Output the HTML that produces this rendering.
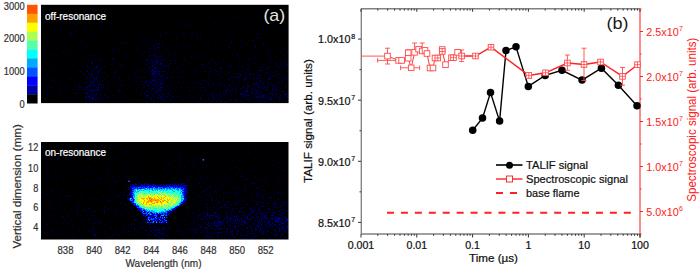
<!DOCTYPE html>
<html><head><meta charset="utf-8"><style>
html,body{margin:0;padding:0;background:#fff;}
body{width:700px;height:274px;overflow:hidden;}
svg{display:block;font-family:"Liberation Sans",sans-serif;}
</style></head><body>
<svg width="700" height="274" viewBox="0 0 700 274"><defs><filter id="nb" x="0" y="0" width="1" height="1"><feGaussianBlur stdDeviation="0.6"/></filter></defs>
<rect x="27" y="4.80" width="10.6" height="9.25" fill="#ff5500"/>
<rect x="27" y="13.75" width="10.6" height="9.25" fill="#ffa000"/>
<rect x="27" y="22.69" width="10.6" height="9.25" fill="#ffff00"/>
<rect x="27" y="31.64" width="10.6" height="9.25" fill="#aaff55"/>
<rect x="27" y="40.58" width="10.6" height="9.25" fill="#55ffaa"/>
<rect x="27" y="49.53" width="10.6" height="9.25" fill="#00ffff"/>
<rect x="27" y="58.47" width="10.6" height="9.25" fill="#00aaff"/>
<rect x="27" y="67.42" width="10.6" height="9.25" fill="#0055ff"/>
<rect x="27" y="76.36" width="10.6" height="9.25" fill="#0000ff"/>
<rect x="27" y="85.31" width="10.6" height="9.25" fill="#0000aa"/>
<rect x="27" y="94.25" width="10.6" height="9.25" fill="#000000"/>
<text transform="translate(24.6,9.8) scale(0.88,1)" font-size="10.6" fill="#333" text-anchor="end" stroke="#333" stroke-width="0.22">3000</text>
<text transform="translate(24.6,42.3) scale(0.88,1)" font-size="10.6" fill="#333" text-anchor="end" stroke="#333" stroke-width="0.22">2000</text>
<text transform="translate(24.6,75.1) scale(0.88,1)" font-size="10.6" fill="#333" text-anchor="end" stroke="#333" stroke-width="0.22">1000</text>
<text transform="translate(24.6,107.8) scale(0.88,1)" font-size="10.6" fill="#333" text-anchor="end" stroke="#333" stroke-width="0.22">0</text>
<rect x="41" y="4.8" width="247.6" height="98.3" fill="#000"/>
<rect x="41" y="142" width="247.5" height="97.5" fill="#000"/>
<g filter="url(#nb)">
<path fill="rgb(0,0,50)" d="M133 5h1v1h-1zM115 6h1v1h-1zM249 6h1v1h-1zM165 7h1v1h-1zM69 8h1v1h-1zM94 8h1v1h-1zM106 8h1v1h-1zM125 10h1v1h-1zM168 10h1v1h-1zM94 11h1v1h-1zM43 13h1v1h-1zM138 13h1v1h-1zM150 13h1v1h-1zM97 14h1v1h-1zM70 15h1v1h-1zM165 15h1v1h-1zM180 15h1v1h-1zM250 15h1v1h-1zM62 16h1v1h-1zM161 16h1v1h-1zM249 16h1v1h-1zM270 16h1v1h-1zM282 16h1v1h-1zM200 17h1v1h-1zM258 17h1v1h-1zM284 17h1v1h-1zM90 18h1v1h-1zM148 19h1v1h-1zM181 19h1v1h-1zM202 19h1v1h-1zM226 19h1v1h-1zM42 20h1v1h-1zM72 20h1v1h-1zM111 20h1v1h-1zM190 20h1v1h-1zM243 20h1v1h-1zM124 21h1v1h-1zM240 21h1v1h-1zM176 22h1v1h-1zM223 22h1v1h-1zM79 23h1v1h-1zM132 23h1v1h-1zM45 24h1v1h-1zM70 24h1v1h-1zM109 24h1v1h-1zM121 24h1v1h-1zM125 25h1v1h-1zM185 25h1v1h-1zM241 25h1v1h-1zM100 26h1v1h-1zM125 26h1v1h-1zM235 26h1v1h-1zM275 26h1v1h-1zM77 27h1v1h-1zM155 27h1v1h-1zM225 27h1v1h-1zM72 28h1v1h-1zM201 28h1v1h-1zM222 28h1v1h-1zM246 29h1v1h-1zM270 29h1v1h-1zM134 31h1v1h-1zM69 32h1v1h-1zM150 32h1v1h-1zM166 32h1v1h-1zM190 33h1v1h-1zM236 33h1v1h-1zM244 33h1v1h-1zM71 34h1v1h-1zM185 34h1v1h-1zM188 34h1v1h-1zM196 34h1v1h-1zM94 35h1v1h-1zM155 35h1v1h-1zM182 35h1v1h-1zM201 35h1v1h-1zM241 35h1v1h-1zM277 35h1v1h-1zM143 36h1v1h-1zM144 36h1v1h-1zM158 36h1v1h-1zM161 36h1v1h-1zM191 36h1v1h-1zM56 37h1v1h-1zM89 37h1v1h-1zM47 38h1v1h-1zM49 38h1v1h-1zM223 38h1v1h-1zM232 38h1v1h-1zM116 39h1v1h-1zM141 39h1v1h-1zM76 40h1v1h-1zM115 40h1v1h-1zM69 41h1v1h-1zM94 41h1v1h-1zM143 41h1v1h-1zM87 42h1v1h-1zM126 42h1v1h-1zM208 42h1v1h-1zM233 42h1v1h-1zM112 43h1v1h-1zM121 43h1v1h-1zM143 43h1v1h-1zM151 43h1v1h-1zM174 43h1v1h-1zM203 43h1v1h-1zM247 43h1v1h-1zM285 43h1v1h-1zM76 44h1v1h-1zM82 44h1v1h-1zM96 44h1v1h-1zM125 44h1v1h-1zM149 44h1v1h-1zM154 44h1v1h-1zM155 44h1v1h-1zM161 44h1v1h-1zM183 44h1v1h-1zM190 44h1v1h-1zM229 44h1v1h-1zM56 45h1v1h-1zM151 45h1v1h-1zM156 45h1v1h-1zM176 45h1v1h-1zM255 45h1v1h-1zM62 46h1v1h-1zM114 46h1v1h-1zM245 46h1v1h-1zM102 47h1v1h-1zM158 47h1v1h-1zM159 47h1v1h-1zM188 47h1v1h-1zM229 47h1v1h-1zM242 47h1v1h-1zM264 47h1v1h-1zM113 48h1v1h-1zM152 48h1v1h-1zM252 48h1v1h-1zM285 48h1v1h-1zM77 49h1v1h-1zM114 49h1v1h-1zM137 49h1v1h-1zM158 49h1v1h-1zM204 49h1v1h-1zM229 49h1v1h-1zM43 50h1v1h-1zM68 50h1v1h-1zM117 50h1v1h-1zM138 50h1v1h-1zM150 50h1v1h-1zM155 50h1v1h-1zM239 50h1v1h-1zM257 50h1v1h-1zM42 51h1v1h-1zM118 51h1v1h-1zM139 51h1v1h-1zM209 51h1v1h-1zM233 51h1v1h-1zM164 52h1v1h-1zM197 52h1v1h-1zM210 52h1v1h-1zM231 52h1v1h-1zM238 52h1v1h-1zM252 52h1v1h-1zM287 52h1v1h-1zM51 53h1v1h-1zM69 53h1v1h-1zM112 53h1v1h-1zM123 53h1v1h-1zM139 53h1v1h-1zM151 53h1v1h-1zM155 53h1v1h-1zM162 53h1v1h-1zM169 53h1v1h-1zM171 53h1v1h-1zM193 53h1v1h-1zM218 53h1v1h-1zM270 53h1v1h-1zM45 54h1v1h-1zM48 54h1v1h-1zM81 54h1v1h-1zM84 54h1v1h-1zM164 54h1v1h-1zM244 54h1v1h-1zM249 54h1v1h-1zM267 54h1v1h-1zM286 54h1v1h-1zM90 55h1v1h-1zM91 55h1v1h-1zM98 55h1v1h-1zM101 55h1v1h-1zM150 55h1v1h-1zM154 55h1v1h-1zM160 55h1v1h-1zM162 55h1v1h-1zM175 55h1v1h-1zM182 55h1v1h-1zM199 55h1v1h-1zM207 55h1v1h-1zM215 55h1v1h-1zM237 55h1v1h-1zM249 55h1v1h-1zM154 56h1v1h-1zM159 56h1v1h-1zM195 56h1v1h-1zM258 56h1v1h-1zM275 56h1v1h-1zM50 57h1v1h-1zM86 57h1v1h-1zM124 57h1v1h-1zM159 57h1v1h-1zM166 57h1v1h-1zM176 57h1v1h-1zM193 57h1v1h-1zM248 57h1v1h-1zM90 58h1v1h-1zM96 58h1v1h-1zM101 58h1v1h-1zM124 58h1v1h-1zM127 58h1v1h-1zM163 58h1v1h-1zM166 58h1v1h-1zM223 58h1v1h-1zM254 58h1v1h-1zM80 59h1v1h-1zM121 59h1v1h-1zM149 59h1v1h-1zM154 59h1v1h-1zM248 59h1v1h-1zM249 59h1v1h-1zM273 59h1v1h-1zM82 60h1v1h-1zM102 60h1v1h-1zM109 60h1v1h-1zM134 60h1v1h-1zM146 60h1v1h-1zM148 60h1v1h-1zM151 60h1v1h-1zM156 60h1v1h-1zM158 60h1v1h-1zM172 60h1v1h-1zM248 60h1v1h-1zM84 61h1v1h-1zM149 61h1v1h-1zM152 61h1v1h-1zM155 61h1v1h-1zM158 61h1v1h-1zM162 61h1v1h-1zM212 61h1v1h-1zM238 61h1v1h-1zM280 61h1v1h-1zM100 62h1v1h-1zM104 62h1v1h-1zM142 62h1v1h-1zM153 62h1v1h-1zM166 62h1v1h-1zM171 62h1v1h-1zM189 62h1v1h-1zM271 62h1v1h-1zM137 63h1v1h-1zM158 63h1v1h-1zM170 63h1v1h-1zM215 63h1v1h-1zM248 63h1v1h-1zM275 63h1v1h-1zM281 63h1v1h-1zM285 63h1v1h-1zM43 64h1v1h-1zM62 64h1v1h-1zM82 64h1v1h-1zM91 64h1v1h-1zM120 64h1v1h-1zM133 64h1v1h-1zM154 64h1v1h-1zM158 64h1v1h-1zM159 64h1v1h-1zM203 64h1v1h-1zM217 64h1v1h-1zM247 64h1v1h-1zM52 65h1v1h-1zM92 65h1v1h-1zM148 65h1v1h-1zM187 65h1v1h-1zM200 65h1v1h-1zM230 65h1v1h-1zM243 65h1v1h-1zM248 65h1v1h-1zM278 65h1v1h-1zM90 66h1v1h-1zM140 66h1v1h-1zM153 66h1v1h-1zM154 66h1v1h-1zM214 66h1v1h-1zM229 66h1v1h-1zM263 66h1v1h-1zM270 66h1v1h-1zM41 67h1v1h-1zM82 67h1v1h-1zM94 67h1v1h-1zM135 67h1v1h-1zM148 67h1v1h-1zM157 67h1v1h-1zM184 67h1v1h-1zM204 67h1v1h-1zM220 67h1v1h-1zM242 67h1v1h-1zM259 67h1v1h-1zM268 67h1v1h-1zM286 67h1v1h-1zM47 68h1v1h-1zM70 68h1v1h-1zM91 68h1v1h-1zM94 68h1v1h-1zM95 68h1v1h-1zM97 68h1v1h-1zM116 68h1v1h-1zM132 68h1v1h-1zM136 68h1v1h-1zM160 68h1v1h-1zM178 68h1v1h-1zM269 68h1v1h-1zM277 68h1v1h-1zM87 69h1v1h-1zM98 69h1v1h-1zM148 69h1v1h-1zM163 69h1v1h-1zM169 69h1v1h-1zM180 69h1v1h-1zM221 69h1v1h-1zM247 69h1v1h-1zM261 69h1v1h-1zM49 70h1v1h-1zM52 70h1v1h-1zM101 70h1v1h-1zM156 70h1v1h-1zM193 70h1v1h-1zM242 70h1v1h-1zM249 70h1v1h-1zM252 70h1v1h-1zM255 70h1v1h-1zM258 70h1v1h-1zM262 70h1v1h-1zM49 71h1v1h-1zM78 71h1v1h-1zM91 71h1v1h-1zM98 71h1v1h-1zM99 71h1v1h-1zM142 71h1v1h-1zM146 71h1v1h-1zM152 71h1v1h-1zM157 71h1v1h-1zM182 71h1v1h-1zM204 71h1v1h-1zM217 71h1v1h-1zM221 71h1v1h-1zM227 71h1v1h-1zM270 71h1v1h-1zM277 71h1v1h-1zM68 72h1v1h-1zM92 72h1v1h-1zM97 72h1v1h-1zM115 72h1v1h-1zM135 72h1v1h-1zM149 72h1v1h-1zM152 72h1v1h-1zM159 72h1v1h-1zM177 72h1v1h-1zM180 72h1v1h-1zM186 72h1v1h-1zM208 72h1v1h-1zM220 72h1v1h-1zM246 72h1v1h-1zM257 72h1v1h-1zM82 73h1v1h-1zM91 73h1v1h-1zM129 73h1v1h-1zM144 73h1v1h-1zM154 73h1v1h-1zM155 73h1v1h-1zM189 73h1v1h-1zM227 73h1v1h-1zM245 73h1v1h-1zM246 73h1v1h-1zM254 73h1v1h-1zM283 73h1v1h-1zM83 74h1v1h-1zM89 74h1v1h-1zM97 74h1v1h-1zM100 74h1v1h-1zM143 74h1v1h-1zM152 74h1v1h-1zM166 74h1v1h-1zM178 74h1v1h-1zM199 74h1v1h-1zM202 74h1v1h-1zM209 74h1v1h-1zM210 74h1v1h-1zM216 74h1v1h-1zM225 74h1v1h-1zM226 74h1v1h-1zM238 74h1v1h-1zM239 74h1v1h-1zM257 74h1v1h-1zM274 74h1v1h-1zM286 74h1v1h-1zM72 75h1v1h-1zM84 75h1v1h-1zM147 75h1v1h-1zM159 75h1v1h-1zM162 75h1v1h-1zM235 75h1v1h-1zM249 75h1v1h-1zM258 75h1v1h-1zM53 76h1v1h-1zM87 76h1v1h-1zM142 76h1v1h-1zM159 76h1v1h-1zM169 76h1v1h-1zM177 76h1v1h-1zM192 76h1v1h-1zM204 76h1v1h-1zM244 76h1v1h-1zM257 76h1v1h-1zM271 76h1v1h-1zM283 76h1v1h-1zM52 77h1v1h-1zM87 77h1v1h-1zM97 77h1v1h-1zM98 77h1v1h-1zM99 77h1v1h-1zM135 77h1v1h-1zM137 77h1v1h-1zM158 77h1v1h-1zM171 77h1v1h-1zM177 77h1v1h-1zM194 77h1v1h-1zM234 77h1v1h-1zM239 77h1v1h-1zM254 77h1v1h-1zM264 77h1v1h-1zM87 78h1v1h-1zM93 78h1v1h-1zM97 78h1v1h-1zM100 78h1v1h-1zM102 78h1v1h-1zM152 78h1v1h-1zM249 78h1v1h-1zM261 78h1v1h-1zM268 78h1v1h-1zM278 78h1v1h-1zM69 79h1v1h-1zM87 79h1v1h-1zM95 79h1v1h-1zM96 79h1v1h-1zM155 79h1v1h-1zM164 79h1v1h-1zM165 79h1v1h-1zM170 79h1v1h-1zM191 79h1v1h-1zM237 79h1v1h-1zM257 79h1v1h-1zM267 79h1v1h-1zM268 79h1v1h-1zM281 79h1v1h-1zM52 80h1v1h-1zM74 80h1v1h-1zM81 80h1v1h-1zM90 80h1v1h-1zM93 80h1v1h-1zM95 80h1v1h-1zM100 80h1v1h-1zM120 80h1v1h-1zM121 80h1v1h-1zM132 80h1v1h-1zM149 80h1v1h-1zM160 80h1v1h-1zM161 80h1v1h-1zM203 80h1v1h-1zM205 80h1v1h-1zM207 80h1v1h-1zM210 80h1v1h-1zM229 80h1v1h-1zM260 80h1v1h-1zM261 80h1v1h-1zM87 81h1v1h-1zM93 81h1v1h-1zM99 81h1v1h-1zM134 81h1v1h-1zM136 81h1v1h-1zM146 81h1v1h-1zM147 81h1v1h-1zM152 81h1v1h-1zM154 81h1v1h-1zM247 81h1v1h-1zM256 81h1v1h-1zM259 81h1v1h-1zM284 81h1v1h-1zM84 82h1v1h-1zM108 82h1v1h-1zM112 82h1v1h-1zM143 82h1v1h-1zM150 82h1v1h-1zM154 82h1v1h-1zM158 82h1v1h-1zM193 82h1v1h-1zM206 82h1v1h-1zM235 82h1v1h-1zM247 82h1v1h-1zM259 82h1v1h-1zM281 82h1v1h-1zM44 83h1v1h-1zM77 83h1v1h-1zM104 83h1v1h-1zM144 83h1v1h-1zM155 83h1v1h-1zM160 83h1v1h-1zM165 83h1v1h-1zM178 83h1v1h-1zM189 83h1v1h-1zM194 83h1v1h-1zM197 83h1v1h-1zM220 83h1v1h-1zM245 83h1v1h-1zM247 83h1v1h-1zM258 83h1v1h-1zM262 83h1v1h-1zM55 84h1v1h-1zM90 84h1v1h-1zM97 84h1v1h-1zM101 84h1v1h-1zM143 84h1v1h-1zM152 84h1v1h-1zM155 84h1v1h-1zM182 84h1v1h-1zM216 84h1v1h-1zM232 84h1v1h-1zM264 84h1v1h-1zM283 84h1v1h-1zM60 85h1v1h-1zM75 85h1v1h-1zM84 85h1v1h-1zM87 85h1v1h-1zM89 85h1v1h-1zM92 85h1v1h-1zM149 85h1v1h-1zM152 85h1v1h-1zM159 85h1v1h-1zM198 85h1v1h-1zM213 85h1v1h-1zM227 85h1v1h-1zM237 85h1v1h-1zM239 85h1v1h-1zM247 85h1v1h-1zM249 85h1v1h-1zM257 85h1v1h-1zM264 85h1v1h-1zM274 85h1v1h-1zM284 85h1v1h-1zM80 86h1v1h-1zM81 86h1v1h-1zM94 86h1v1h-1zM95 86h1v1h-1zM144 86h1v1h-1zM151 86h1v1h-1zM168 86h1v1h-1zM175 86h1v1h-1zM208 86h1v1h-1zM228 86h1v1h-1zM246 86h1v1h-1zM268 86h1v1h-1zM272 86h1v1h-1zM75 87h1v1h-1zM80 87h1v1h-1zM83 87h1v1h-1zM90 87h1v1h-1zM99 87h1v1h-1zM101 87h1v1h-1zM163 87h1v1h-1zM205 87h1v1h-1zM222 87h1v1h-1zM238 87h1v1h-1zM249 87h1v1h-1zM260 87h1v1h-1zM95 88h1v1h-1zM100 88h1v1h-1zM102 88h1v1h-1zM108 88h1v1h-1zM153 88h1v1h-1zM156 88h1v1h-1zM159 88h1v1h-1zM160 88h1v1h-1zM161 88h1v1h-1zM173 88h1v1h-1zM243 88h1v1h-1zM266 88h1v1h-1zM267 88h1v1h-1zM280 88h1v1h-1zM61 89h1v1h-1zM72 89h1v1h-1zM83 89h1v1h-1zM106 89h1v1h-1zM119 89h1v1h-1zM165 89h1v1h-1zM170 89h1v1h-1zM173 89h1v1h-1zM190 89h1v1h-1zM200 89h1v1h-1zM217 89h1v1h-1zM240 89h1v1h-1zM246 89h1v1h-1zM259 89h1v1h-1zM268 89h1v1h-1zM271 89h1v1h-1zM274 89h1v1h-1zM279 89h1v1h-1zM90 90h1v1h-1zM92 90h1v1h-1zM94 90h1v1h-1zM95 90h1v1h-1zM108 90h1v1h-1zM136 90h1v1h-1zM149 90h1v1h-1zM169 90h1v1h-1zM178 90h1v1h-1zM200 90h1v1h-1zM204 90h1v1h-1zM230 90h1v1h-1zM231 90h1v1h-1zM234 90h1v1h-1zM252 90h1v1h-1zM253 90h1v1h-1zM257 90h1v1h-1zM265 90h1v1h-1zM275 90h1v1h-1zM90 91h1v1h-1zM100 91h1v1h-1zM139 91h1v1h-1zM154 91h1v1h-1zM155 91h1v1h-1zM158 91h1v1h-1zM169 91h1v1h-1zM229 91h1v1h-1zM232 91h1v1h-1zM242 91h1v1h-1zM252 91h1v1h-1zM260 91h1v1h-1zM282 91h1v1h-1zM76 92h1v1h-1zM85 92h1v1h-1zM109 92h1v1h-1zM209 92h1v1h-1zM215 92h1v1h-1zM219 92h1v1h-1zM243 92h1v1h-1zM251 92h1v1h-1zM253 92h1v1h-1zM279 92h1v1h-1zM285 92h1v1h-1zM62 93h1v1h-1zM79 93h1v1h-1zM84 93h1v1h-1zM90 93h1v1h-1zM151 93h1v1h-1zM155 93h1v1h-1zM163 93h1v1h-1zM164 93h1v1h-1zM167 93h1v1h-1zM228 93h1v1h-1zM240 93h1v1h-1zM275 93h1v1h-1zM278 93h1v1h-1zM286 93h1v1h-1zM60 94h1v1h-1zM80 94h1v1h-1zM81 94h1v1h-1zM88 94h1v1h-1zM91 94h1v1h-1zM93 94h1v1h-1zM101 94h1v1h-1zM153 94h1v1h-1zM202 94h1v1h-1zM213 94h1v1h-1zM214 94h1v1h-1zM226 94h1v1h-1zM241 94h1v1h-1zM243 94h1v1h-1zM252 94h1v1h-1zM257 94h1v1h-1zM258 94h1v1h-1zM89 95h1v1h-1zM99 95h1v1h-1zM113 95h1v1h-1zM123 95h1v1h-1zM133 95h1v1h-1zM136 95h1v1h-1zM145 95h1v1h-1zM158 95h1v1h-1zM162 95h1v1h-1zM168 95h1v1h-1zM178 95h1v1h-1zM213 95h1v1h-1zM220 95h1v1h-1zM223 95h1v1h-1zM236 95h1v1h-1zM264 95h1v1h-1zM278 95h1v1h-1zM284 95h1v1h-1zM87 96h1v1h-1zM127 96h1v1h-1zM146 96h1v1h-1zM148 96h1v1h-1zM155 96h1v1h-1zM160 96h1v1h-1zM166 96h1v1h-1zM172 96h1v1h-1zM178 96h1v1h-1zM193 96h1v1h-1zM229 96h1v1h-1zM245 96h1v1h-1zM249 96h1v1h-1zM255 96h1v1h-1zM256 96h1v1h-1zM259 96h1v1h-1zM261 96h1v1h-1zM263 96h1v1h-1zM264 96h1v1h-1zM271 96h1v1h-1zM273 96h1v1h-1zM275 96h1v1h-1zM286 96h1v1h-1zM46 97h1v1h-1zM48 97h1v1h-1zM86 97h1v1h-1zM91 97h1v1h-1zM99 97h1v1h-1zM102 97h1v1h-1zM105 97h1v1h-1zM108 97h1v1h-1zM113 97h1v1h-1zM127 97h1v1h-1zM146 97h1v1h-1zM151 97h1v1h-1zM218 97h1v1h-1zM246 97h1v1h-1zM257 97h1v1h-1zM266 97h1v1h-1zM78 98h1v1h-1zM95 98h1v1h-1zM99 98h1v1h-1zM148 98h1v1h-1zM149 98h1v1h-1zM162 98h1v1h-1zM201 98h1v1h-1zM214 98h1v1h-1zM217 98h1v1h-1zM264 98h1v1h-1zM278 98h1v1h-1zM286 98h1v1h-1zM44 99h1v1h-1zM67 99h1v1h-1zM90 99h1v1h-1zM97 99h1v1h-1zM103 99h1v1h-1zM150 99h1v1h-1zM151 99h1v1h-1zM229 99h1v1h-1zM249 99h1v1h-1zM269 99h1v1h-1zM270 99h1v1h-1zM272 99h1v1h-1zM76 100h1v1h-1zM154 100h1v1h-1zM165 100h1v1h-1zM181 100h1v1h-1zM195 100h1v1h-1zM202 100h1v1h-1zM247 100h1v1h-1zM249 100h1v1h-1zM252 100h1v1h-1zM255 100h1v1h-1zM256 100h1v1h-1zM258 100h1v1h-1zM271 100h1v1h-1zM96 101h1v1h-1zM103 101h1v1h-1zM113 101h1v1h-1zM144 101h1v1h-1zM159 101h1v1h-1zM175 101h1v1h-1zM196 101h1v1h-1zM206 101h1v1h-1zM217 101h1v1h-1zM234 101h1v1h-1zM258 101h1v1h-1zM260 101h1v1h-1zM266 101h1v1h-1zM279 101h1v1h-1zM221 102h1v1h-1zM241 102h1v1h-1zM244 102h1v1h-1zM255 102h1v1h-1zM265 102h1v1h-1z"/>
<path fill="rgb(0,0,85)" d="M102 5h1v1h-1zM120 8h1v1h-1zM191 8h1v1h-1zM132 10h1v1h-1zM149 10h1v1h-1zM240 10h1v1h-1zM58 11h1v1h-1zM60 11h1v1h-1zM92 11h1v1h-1zM114 11h1v1h-1zM230 11h1v1h-1zM259 11h1v1h-1zM89 12h1v1h-1zM87 13h1v1h-1zM244 13h1v1h-1zM89 14h1v1h-1zM161 14h1v1h-1zM41 16h1v1h-1zM64 16h1v1h-1zM234 17h1v1h-1zM238 17h1v1h-1zM276 17h1v1h-1zM120 18h1v1h-1zM167 18h1v1h-1zM208 18h1v1h-1zM70 19h1v1h-1zM217 19h1v1h-1zM207 20h1v1h-1zM220 21h1v1h-1zM180 22h1v1h-1zM214 22h1v1h-1zM75 24h1v1h-1zM174 25h1v1h-1zM187 25h1v1h-1zM264 25h1v1h-1zM273 25h1v1h-1zM60 26h1v1h-1zM184 26h1v1h-1zM63 27h1v1h-1zM191 27h1v1h-1zM259 27h1v1h-1zM284 27h1v1h-1zM68 28h1v1h-1zM266 28h1v1h-1zM276 28h1v1h-1zM84 29h1v1h-1zM252 29h1v1h-1zM283 30h1v1h-1zM75 31h1v1h-1zM223 31h1v1h-1zM70 32h1v1h-1zM165 32h1v1h-1zM192 32h1v1h-1zM74 33h1v1h-1zM78 33h1v1h-1zM160 33h1v1h-1zM183 33h1v1h-1zM200 33h1v1h-1zM257 33h1v1h-1zM259 33h1v1h-1zM70 34h1v1h-1zM136 34h1v1h-1zM184 34h1v1h-1zM229 34h1v1h-1zM257 34h1v1h-1zM283 34h1v1h-1zM71 35h1v1h-1zM90 35h1v1h-1zM126 35h1v1h-1zM148 35h1v1h-1zM160 35h1v1h-1zM171 35h1v1h-1zM197 35h1v1h-1zM211 35h1v1h-1zM276 36h1v1h-1zM65 37h1v1h-1zM73 37h1v1h-1zM201 37h1v1h-1zM138 38h1v1h-1zM146 38h1v1h-1zM177 38h1v1h-1zM198 38h1v1h-1zM226 38h1v1h-1zM257 38h1v1h-1zM51 39h1v1h-1zM113 39h1v1h-1zM154 39h1v1h-1zM177 39h1v1h-1zM226 40h1v1h-1zM249 40h1v1h-1zM253 40h1v1h-1zM81 41h1v1h-1zM146 41h1v1h-1zM156 41h1v1h-1zM231 41h1v1h-1zM241 41h1v1h-1zM41 42h1v1h-1zM121 42h1v1h-1zM231 42h1v1h-1zM55 43h1v1h-1zM122 43h1v1h-1zM208 43h1v1h-1zM218 43h1v1h-1zM229 43h1v1h-1zM263 43h1v1h-1zM85 44h1v1h-1zM153 44h1v1h-1zM157 44h1v1h-1zM263 44h1v1h-1zM137 45h1v1h-1zM148 45h1v1h-1zM254 45h1v1h-1zM177 46h1v1h-1zM206 46h1v1h-1zM229 46h1v1h-1zM86 47h1v1h-1zM139 47h1v1h-1zM162 47h1v1h-1zM169 47h1v1h-1zM186 47h1v1h-1zM241 47h1v1h-1zM56 48h1v1h-1zM149 48h1v1h-1zM154 48h1v1h-1zM257 48h1v1h-1zM267 48h1v1h-1zM284 48h1v1h-1zM69 49h1v1h-1zM81 49h1v1h-1zM112 49h1v1h-1zM155 49h1v1h-1zM159 49h1v1h-1zM178 49h1v1h-1zM84 50h1v1h-1zM157 51h1v1h-1zM225 51h1v1h-1zM269 51h1v1h-1zM281 51h1v1h-1zM52 52h1v1h-1zM61 52h1v1h-1zM144 52h1v1h-1zM245 52h1v1h-1zM267 52h1v1h-1zM278 52h1v1h-1zM65 53h1v1h-1zM154 53h1v1h-1zM175 53h1v1h-1zM187 53h1v1h-1zM203 53h1v1h-1zM57 54h1v1h-1zM125 54h1v1h-1zM142 54h1v1h-1zM156 54h1v1h-1zM236 54h1v1h-1zM50 55h1v1h-1zM70 55h1v1h-1zM88 55h1v1h-1zM95 55h1v1h-1zM153 55h1v1h-1zM169 55h1v1h-1zM232 55h1v1h-1zM155 56h1v1h-1zM191 56h1v1h-1zM99 57h1v1h-1zM184 57h1v1h-1zM197 57h1v1h-1zM238 57h1v1h-1zM255 57h1v1h-1zM99 58h1v1h-1zM112 58h1v1h-1zM113 58h1v1h-1zM146 58h1v1h-1zM150 58h1v1h-1zM183 58h1v1h-1zM239 58h1v1h-1zM267 58h1v1h-1zM270 58h1v1h-1zM60 59h1v1h-1zM112 59h1v1h-1zM147 59h1v1h-1zM157 59h1v1h-1zM184 59h1v1h-1zM205 59h1v1h-1zM261 59h1v1h-1zM285 59h1v1h-1zM65 60h1v1h-1zM75 60h1v1h-1zM92 60h1v1h-1zM95 60h1v1h-1zM99 60h1v1h-1zM136 60h1v1h-1zM138 60h1v1h-1zM147 60h1v1h-1zM163 60h1v1h-1zM168 60h1v1h-1zM170 60h1v1h-1zM175 60h1v1h-1zM213 60h1v1h-1zM223 60h1v1h-1zM251 60h1v1h-1zM270 60h1v1h-1zM62 61h1v1h-1zM92 61h1v1h-1zM100 61h1v1h-1zM109 61h1v1h-1zM156 61h1v1h-1zM157 61h1v1h-1zM161 61h1v1h-1zM231 61h1v1h-1zM257 61h1v1h-1zM286 61h1v1h-1zM150 62h1v1h-1zM152 62h1v1h-1zM157 62h1v1h-1zM187 62h1v1h-1zM215 62h1v1h-1zM275 62h1v1h-1zM284 62h1v1h-1zM153 63h1v1h-1zM157 63h1v1h-1zM218 63h1v1h-1zM254 63h1v1h-1zM111 64h1v1h-1zM112 64h1v1h-1zM155 64h1v1h-1zM160 64h1v1h-1zM168 64h1v1h-1zM181 64h1v1h-1zM220 64h1v1h-1zM231 64h1v1h-1zM262 64h1v1h-1zM276 64h1v1h-1zM281 64h1v1h-1zM286 64h1v1h-1zM287 64h1v1h-1zM72 65h1v1h-1zM93 65h1v1h-1zM98 65h1v1h-1zM120 65h1v1h-1zM151 65h1v1h-1zM163 65h1v1h-1zM228 65h1v1h-1zM280 65h1v1h-1zM284 65h1v1h-1zM122 66h1v1h-1zM124 66h1v1h-1zM157 66h1v1h-1zM164 66h1v1h-1zM168 66h1v1h-1zM202 66h1v1h-1zM242 66h1v1h-1zM268 66h1v1h-1zM274 66h1v1h-1zM279 66h1v1h-1zM283 66h1v1h-1zM77 67h1v1h-1zM87 67h1v1h-1zM95 67h1v1h-1zM97 67h1v1h-1zM101 67h1v1h-1zM154 67h1v1h-1zM159 67h1v1h-1zM177 67h1v1h-1zM203 67h1v1h-1zM219 67h1v1h-1zM258 67h1v1h-1zM262 67h1v1h-1zM50 68h1v1h-1zM60 68h1v1h-1zM89 68h1v1h-1zM144 68h1v1h-1zM148 68h1v1h-1zM154 68h1v1h-1zM155 68h1v1h-1zM157 68h1v1h-1zM173 68h1v1h-1zM247 68h1v1h-1zM266 68h1v1h-1zM281 68h1v1h-1zM156 69h1v1h-1zM165 69h1v1h-1zM177 69h1v1h-1zM204 69h1v1h-1zM214 69h1v1h-1zM257 69h1v1h-1zM260 69h1v1h-1zM266 69h1v1h-1zM92 70h1v1h-1zM113 70h1v1h-1zM116 70h1v1h-1zM123 70h1v1h-1zM137 70h1v1h-1zM162 70h1v1h-1zM183 70h1v1h-1zM195 70h1v1h-1zM196 70h1v1h-1zM215 70h1v1h-1zM261 70h1v1h-1zM92 71h1v1h-1zM97 71h1v1h-1zM132 71h1v1h-1zM138 71h1v1h-1zM150 71h1v1h-1zM159 71h1v1h-1zM161 71h1v1h-1zM201 71h1v1h-1zM205 71h1v1h-1zM216 71h1v1h-1zM219 71h1v1h-1zM226 71h1v1h-1zM234 71h1v1h-1zM260 71h1v1h-1zM287 71h1v1h-1zM98 72h1v1h-1zM102 72h1v1h-1zM104 72h1v1h-1zM113 72h1v1h-1zM153 72h1v1h-1zM172 72h1v1h-1zM222 72h1v1h-1zM229 72h1v1h-1zM252 72h1v1h-1zM273 72h1v1h-1zM114 73h1v1h-1zM125 73h1v1h-1zM183 73h1v1h-1zM195 73h1v1h-1zM214 73h1v1h-1zM239 73h1v1h-1zM268 73h1v1h-1zM84 74h1v1h-1zM115 74h1v1h-1zM153 74h1v1h-1zM154 74h1v1h-1zM164 74h1v1h-1zM219 74h1v1h-1zM240 74h1v1h-1zM241 74h1v1h-1zM245 74h1v1h-1zM249 74h1v1h-1zM250 74h1v1h-1zM275 74h1v1h-1zM278 74h1v1h-1zM107 75h1v1h-1zM150 75h1v1h-1zM163 75h1v1h-1zM253 75h1v1h-1zM261 75h1v1h-1zM264 75h1v1h-1zM93 76h1v1h-1zM103 76h1v1h-1zM117 76h1v1h-1zM121 76h1v1h-1zM136 76h1v1h-1zM160 76h1v1h-1zM173 76h1v1h-1zM237 76h1v1h-1zM239 76h1v1h-1zM272 76h1v1h-1zM285 76h1v1h-1zM78 77h1v1h-1zM90 77h1v1h-1zM93 77h1v1h-1zM113 77h1v1h-1zM139 77h1v1h-1zM154 77h1v1h-1zM163 77h1v1h-1zM170 77h1v1h-1zM179 77h1v1h-1zM231 77h1v1h-1zM233 77h1v1h-1zM235 77h1v1h-1zM238 77h1v1h-1zM276 77h1v1h-1zM278 77h1v1h-1zM281 77h1v1h-1zM46 78h1v1h-1zM48 78h1v1h-1zM68 78h1v1h-1zM71 78h1v1h-1zM85 78h1v1h-1zM95 78h1v1h-1zM129 78h1v1h-1zM141 78h1v1h-1zM200 78h1v1h-1zM229 78h1v1h-1zM246 78h1v1h-1zM251 78h1v1h-1zM252 78h1v1h-1zM253 78h1v1h-1zM270 78h1v1h-1zM285 78h1v1h-1zM41 79h1v1h-1zM54 79h1v1h-1zM60 79h1v1h-1zM94 79h1v1h-1zM151 79h1v1h-1zM161 79h1v1h-1zM217 79h1v1h-1zM228 79h1v1h-1zM243 79h1v1h-1zM245 79h1v1h-1zM254 79h1v1h-1zM269 79h1v1h-1zM92 80h1v1h-1zM102 80h1v1h-1zM124 80h1v1h-1zM146 80h1v1h-1zM152 80h1v1h-1zM155 80h1v1h-1zM202 80h1v1h-1zM233 80h1v1h-1zM244 80h1v1h-1zM52 81h1v1h-1zM90 81h1v1h-1zM91 81h1v1h-1zM108 81h1v1h-1zM118 81h1v1h-1zM133 81h1v1h-1zM141 81h1v1h-1zM142 81h1v1h-1zM150 81h1v1h-1zM151 81h1v1h-1zM153 81h1v1h-1zM156 81h1v1h-1zM158 81h1v1h-1zM198 81h1v1h-1zM207 81h1v1h-1zM232 81h1v1h-1zM239 81h1v1h-1zM83 82h1v1h-1zM87 82h1v1h-1zM90 82h1v1h-1zM92 82h1v1h-1zM145 82h1v1h-1zM146 82h1v1h-1zM159 82h1v1h-1zM183 82h1v1h-1zM248 82h1v1h-1zM256 82h1v1h-1zM263 82h1v1h-1zM265 82h1v1h-1zM279 82h1v1h-1zM91 83h1v1h-1zM98 83h1v1h-1zM145 83h1v1h-1zM147 83h1v1h-1zM156 83h1v1h-1zM161 83h1v1h-1zM162 83h1v1h-1zM169 83h1v1h-1zM177 83h1v1h-1zM226 83h1v1h-1zM252 83h1v1h-1zM260 83h1v1h-1zM268 83h1v1h-1zM271 83h1v1h-1zM42 84h1v1h-1zM60 84h1v1h-1zM93 84h1v1h-1zM100 84h1v1h-1zM108 84h1v1h-1zM115 84h1v1h-1zM121 84h1v1h-1zM150 84h1v1h-1zM153 84h1v1h-1zM154 84h1v1h-1zM156 84h1v1h-1zM157 84h1v1h-1zM160 84h1v1h-1zM164 84h1v1h-1zM200 84h1v1h-1zM222 84h1v1h-1zM224 84h1v1h-1zM234 84h1v1h-1zM256 84h1v1h-1zM79 85h1v1h-1zM85 85h1v1h-1zM88 85h1v1h-1zM90 85h1v1h-1zM98 85h1v1h-1zM100 85h1v1h-1zM103 85h1v1h-1zM129 85h1v1h-1zM144 85h1v1h-1zM147 85h1v1h-1zM158 85h1v1h-1zM229 85h1v1h-1zM268 85h1v1h-1zM275 85h1v1h-1zM49 86h1v1h-1zM101 86h1v1h-1zM118 86h1v1h-1zM123 86h1v1h-1zM156 86h1v1h-1zM160 86h1v1h-1zM166 86h1v1h-1zM181 86h1v1h-1zM209 86h1v1h-1zM224 86h1v1h-1zM229 86h1v1h-1zM232 86h1v1h-1zM248 86h1v1h-1zM249 86h1v1h-1zM252 86h1v1h-1zM263 86h1v1h-1zM285 86h1v1h-1zM45 87h1v1h-1zM49 87h1v1h-1zM52 87h1v1h-1zM79 87h1v1h-1zM103 87h1v1h-1zM153 87h1v1h-1zM157 87h1v1h-1zM160 87h1v1h-1zM181 87h1v1h-1zM187 87h1v1h-1zM189 87h1v1h-1zM197 87h1v1h-1zM202 87h1v1h-1zM204 87h1v1h-1zM226 87h1v1h-1zM247 87h1v1h-1zM259 87h1v1h-1zM272 87h1v1h-1zM281 87h1v1h-1zM60 88h1v1h-1zM127 88h1v1h-1zM136 88h1v1h-1zM148 88h1v1h-1zM152 88h1v1h-1zM158 88h1v1h-1zM192 88h1v1h-1zM235 88h1v1h-1zM240 88h1v1h-1zM259 88h1v1h-1zM261 88h1v1h-1zM263 88h1v1h-1zM272 88h1v1h-1zM274 88h1v1h-1zM276 88h1v1h-1zM47 89h1v1h-1zM78 89h1v1h-1zM79 89h1v1h-1zM82 89h1v1h-1zM91 89h1v1h-1zM97 89h1v1h-1zM101 89h1v1h-1zM142 89h1v1h-1zM155 89h1v1h-1zM158 89h1v1h-1zM205 89h1v1h-1zM214 89h1v1h-1zM232 89h1v1h-1zM236 89h1v1h-1zM265 89h1v1h-1zM266 89h1v1h-1zM267 89h1v1h-1zM272 89h1v1h-1zM275 89h1v1h-1zM54 90h1v1h-1zM60 90h1v1h-1zM87 90h1v1h-1zM88 90h1v1h-1zM97 90h1v1h-1zM99 90h1v1h-1zM155 90h1v1h-1zM158 90h1v1h-1zM159 90h1v1h-1zM160 90h1v1h-1zM170 90h1v1h-1zM175 90h1v1h-1zM203 90h1v1h-1zM212 90h1v1h-1zM225 90h1v1h-1zM245 90h1v1h-1zM256 90h1v1h-1zM258 90h1v1h-1zM272 90h1v1h-1zM283 90h1v1h-1zM57 91h1v1h-1zM65 91h1v1h-1zM91 91h1v1h-1zM118 91h1v1h-1zM120 91h1v1h-1zM145 91h1v1h-1zM146 91h1v1h-1zM159 91h1v1h-1zM166 91h1v1h-1zM183 91h1v1h-1zM194 91h1v1h-1zM201 91h1v1h-1zM207 91h1v1h-1zM220 91h1v1h-1zM226 91h1v1h-1zM251 91h1v1h-1zM256 91h1v1h-1zM269 91h1v1h-1zM283 91h1v1h-1zM47 92h1v1h-1zM87 92h1v1h-1zM94 92h1v1h-1zM151 92h1v1h-1zM153 92h1v1h-1zM156 92h1v1h-1zM177 92h1v1h-1zM211 92h1v1h-1zM226 92h1v1h-1zM236 92h1v1h-1zM252 92h1v1h-1zM260 92h1v1h-1zM270 92h1v1h-1zM74 93h1v1h-1zM75 93h1v1h-1zM86 93h1v1h-1zM100 93h1v1h-1zM154 93h1v1h-1zM173 93h1v1h-1zM198 93h1v1h-1zM225 93h1v1h-1zM252 93h1v1h-1zM257 93h1v1h-1zM258 93h1v1h-1zM284 93h1v1h-1zM140 94h1v1h-1zM166 94h1v1h-1zM207 94h1v1h-1zM211 94h1v1h-1zM216 94h1v1h-1zM227 94h1v1h-1zM231 94h1v1h-1zM242 94h1v1h-1zM245 94h1v1h-1zM263 94h1v1h-1zM287 94h1v1h-1zM95 95h1v1h-1zM101 95h1v1h-1zM105 95h1v1h-1zM164 95h1v1h-1zM170 95h1v1h-1zM189 95h1v1h-1zM217 95h1v1h-1zM224 95h1v1h-1zM243 95h1v1h-1zM244 95h1v1h-1zM246 95h1v1h-1zM247 95h1v1h-1zM248 95h1v1h-1zM260 95h1v1h-1zM262 95h1v1h-1zM276 95h1v1h-1zM280 95h1v1h-1zM88 96h1v1h-1zM99 96h1v1h-1zM108 96h1v1h-1zM147 96h1v1h-1zM164 96h1v1h-1zM167 96h1v1h-1zM173 96h1v1h-1zM177 96h1v1h-1zM189 96h1v1h-1zM241 96h1v1h-1zM243 96h1v1h-1zM246 96h1v1h-1zM266 96h1v1h-1zM269 96h1v1h-1zM278 96h1v1h-1zM284 96h1v1h-1zM67 97h1v1h-1zM96 97h1v1h-1zM107 97h1v1h-1zM123 97h1v1h-1zM157 97h1v1h-1zM160 97h1v1h-1zM161 97h1v1h-1zM172 97h1v1h-1zM192 97h1v1h-1zM200 97h1v1h-1zM225 97h1v1h-1zM252 97h1v1h-1zM256 97h1v1h-1zM261 97h1v1h-1zM275 97h1v1h-1zM278 97h1v1h-1zM45 98h1v1h-1zM86 98h1v1h-1zM92 98h1v1h-1zM101 98h1v1h-1zM107 98h1v1h-1zM159 98h1v1h-1zM165 98h1v1h-1zM170 98h1v1h-1zM181 98h1v1h-1zM191 98h1v1h-1zM196 98h1v1h-1zM245 98h1v1h-1zM247 98h1v1h-1zM250 98h1v1h-1zM254 98h1v1h-1zM266 98h1v1h-1zM280 98h1v1h-1zM93 99h1v1h-1zM94 99h1v1h-1zM96 99h1v1h-1zM99 99h1v1h-1zM130 99h1v1h-1zM142 99h1v1h-1zM153 99h1v1h-1zM162 99h1v1h-1zM163 99h1v1h-1zM179 99h1v1h-1zM205 99h1v1h-1zM219 99h1v1h-1zM222 99h1v1h-1zM228 99h1v1h-1zM235 99h1v1h-1zM283 99h1v1h-1zM53 100h1v1h-1zM89 100h1v1h-1zM107 100h1v1h-1zM139 100h1v1h-1zM151 100h1v1h-1zM157 100h1v1h-1zM230 100h1v1h-1zM235 100h1v1h-1zM242 100h1v1h-1zM248 100h1v1h-1zM260 100h1v1h-1zM262 100h1v1h-1zM65 101h1v1h-1zM90 101h1v1h-1zM98 101h1v1h-1zM166 101h1v1h-1zM198 101h1v1h-1zM220 101h1v1h-1zM221 101h1v1h-1zM249 101h1v1h-1zM262 101h1v1h-1zM267 101h1v1h-1zM273 101h1v1h-1zM286 101h1v1h-1zM56 102h1v1h-1zM92 102h1v1h-1zM146 102h1v1h-1zM235 102h1v1h-1z"/>
<path fill="rgb(0,0,125)" d="M162 41h1v1h-1zM159 43h1v1h-1zM153 46h1v1h-1zM157 47h1v1h-1zM255 47h1v1h-1zM166 50h1v1h-1zM148 51h1v1h-1zM149 55h1v1h-1zM148 56h1v1h-1zM157 56h1v1h-1zM161 56h1v1h-1zM155 57h1v1h-1zM86 58h1v1h-1zM158 58h1v1h-1zM155 59h1v1h-1zM161 59h1v1h-1zM145 60h1v1h-1zM152 60h1v1h-1zM155 60h1v1h-1zM157 60h1v1h-1zM165 60h1v1h-1zM167 60h1v1h-1zM156 62h1v1h-1zM91 63h1v1h-1zM92 63h1v1h-1zM148 63h1v1h-1zM160 63h1v1h-1zM161 63h1v1h-1zM175 63h1v1h-1zM209 63h1v1h-1zM145 64h1v1h-1zM162 64h1v1h-1zM202 64h1v1h-1zM87 65h1v1h-1zM152 65h1v1h-1zM161 65h1v1h-1zM166 65h1v1h-1zM238 65h1v1h-1zM96 66h1v1h-1zM105 66h1v1h-1zM152 66h1v1h-1zM165 66h1v1h-1zM96 67h1v1h-1zM150 67h1v1h-1zM155 67h1v1h-1zM210 67h1v1h-1zM231 67h1v1h-1zM92 68h1v1h-1zM100 68h1v1h-1zM220 68h1v1h-1zM248 68h1v1h-1zM152 69h1v1h-1zM157 69h1v1h-1zM243 69h1v1h-1zM94 70h1v1h-1zM99 70h1v1h-1zM150 70h1v1h-1zM80 71h1v1h-1zM87 71h1v1h-1zM153 71h1v1h-1zM154 71h1v1h-1zM155 71h1v1h-1zM158 71h1v1h-1zM163 71h1v1h-1zM165 71h1v1h-1zM211 71h1v1h-1zM276 71h1v1h-1zM155 72h1v1h-1zM158 72h1v1h-1zM266 72h1v1h-1zM88 73h1v1h-1zM151 73h1v1h-1zM152 73h1v1h-1zM153 73h1v1h-1zM156 73h1v1h-1zM167 73h1v1h-1zM236 73h1v1h-1zM249 73h1v1h-1zM266 73h1v1h-1zM278 73h1v1h-1zM280 73h1v1h-1zM91 74h1v1h-1zM92 74h1v1h-1zM134 74h1v1h-1zM159 74h1v1h-1zM259 74h1v1h-1zM89 75h1v1h-1zM91 75h1v1h-1zM153 75h1v1h-1zM155 75h1v1h-1zM160 75h1v1h-1zM240 75h1v1h-1zM268 75h1v1h-1zM275 75h1v1h-1zM96 76h1v1h-1zM153 76h1v1h-1zM161 76h1v1h-1zM92 77h1v1h-1zM145 77h1v1h-1zM161 77h1v1h-1zM167 77h1v1h-1zM208 77h1v1h-1zM220 77h1v1h-1zM245 77h1v1h-1zM246 77h1v1h-1zM259 77h1v1h-1zM269 77h1v1h-1zM96 78h1v1h-1zM104 78h1v1h-1zM119 78h1v1h-1zM155 78h1v1h-1zM167 78h1v1h-1zM228 78h1v1h-1zM256 78h1v1h-1zM259 78h1v1h-1zM287 78h1v1h-1zM153 79h1v1h-1zM157 79h1v1h-1zM159 79h1v1h-1zM244 79h1v1h-1zM270 79h1v1h-1zM284 79h1v1h-1zM94 80h1v1h-1zM153 80h1v1h-1zM156 80h1v1h-1zM282 80h1v1h-1zM60 81h1v1h-1zM97 81h1v1h-1zM162 81h1v1h-1zM163 81h1v1h-1zM220 81h1v1h-1zM260 81h1v1h-1zM278 81h1v1h-1zM93 82h1v1h-1zM151 82h1v1h-1zM161 82h1v1h-1zM196 82h1v1h-1zM218 82h1v1h-1zM262 82h1v1h-1zM268 82h1v1h-1zM149 83h1v1h-1zM171 83h1v1h-1zM213 83h1v1h-1zM255 83h1v1h-1zM275 83h1v1h-1zM92 84h1v1h-1zM98 84h1v1h-1zM147 84h1v1h-1zM161 84h1v1h-1zM208 84h1v1h-1zM254 84h1v1h-1zM257 84h1v1h-1zM262 84h1v1h-1zM272 84h1v1h-1zM281 84h1v1h-1zM94 85h1v1h-1zM218 85h1v1h-1zM221 85h1v1h-1zM253 85h1v1h-1zM89 86h1v1h-1zM90 86h1v1h-1zM93 86h1v1h-1zM148 86h1v1h-1zM243 86h1v1h-1zM258 86h1v1h-1zM274 86h1v1h-1zM86 87h1v1h-1zM87 87h1v1h-1zM96 87h1v1h-1zM98 87h1v1h-1zM107 87h1v1h-1zM143 87h1v1h-1zM161 87h1v1h-1zM162 87h1v1h-1zM201 87h1v1h-1zM236 87h1v1h-1zM243 87h1v1h-1zM258 87h1v1h-1zM261 87h1v1h-1zM265 87h1v1h-1zM267 87h1v1h-1zM277 87h1v1h-1zM286 87h1v1h-1zM67 88h1v1h-1zM87 88h1v1h-1zM98 88h1v1h-1zM246 88h1v1h-1zM252 88h1v1h-1zM254 88h1v1h-1zM85 89h1v1h-1zM90 89h1v1h-1zM94 89h1v1h-1zM96 89h1v1h-1zM152 89h1v1h-1zM164 89h1v1h-1zM227 89h1v1h-1zM228 89h1v1h-1zM235 89h1v1h-1zM84 90h1v1h-1zM93 90h1v1h-1zM98 90h1v1h-1zM151 90h1v1h-1zM156 90h1v1h-1zM161 90h1v1h-1zM189 90h1v1h-1zM247 90h1v1h-1zM250 90h1v1h-1zM255 90h1v1h-1zM277 90h1v1h-1zM93 91h1v1h-1zM119 91h1v1h-1zM147 91h1v1h-1zM225 91h1v1h-1zM246 91h1v1h-1zM247 91h1v1h-1zM261 91h1v1h-1zM157 92h1v1h-1zM223 92h1v1h-1zM257 92h1v1h-1zM267 92h1v1h-1zM43 93h1v1h-1zM85 93h1v1h-1zM87 93h1v1h-1zM91 93h1v1h-1zM96 93h1v1h-1zM144 93h1v1h-1zM161 93h1v1h-1zM168 93h1v1h-1zM241 93h1v1h-1zM246 93h1v1h-1zM270 93h1v1h-1zM276 93h1v1h-1zM89 94h1v1h-1zM94 94h1v1h-1zM96 94h1v1h-1zM104 94h1v1h-1zM159 94h1v1h-1zM162 94h1v1h-1zM212 94h1v1h-1zM220 94h1v1h-1zM240 94h1v1h-1zM255 94h1v1h-1zM260 94h1v1h-1zM265 94h1v1h-1zM270 94h1v1h-1zM273 94h1v1h-1zM284 94h1v1h-1zM285 94h1v1h-1zM87 95h1v1h-1zM92 95h1v1h-1zM146 95h1v1h-1zM147 95h1v1h-1zM152 95h1v1h-1zM249 95h1v1h-1zM263 95h1v1h-1zM272 95h1v1h-1zM86 96h1v1h-1zM89 96h1v1h-1zM94 96h1v1h-1zM154 96h1v1h-1zM161 96h1v1h-1zM212 96h1v1h-1zM221 96h1v1h-1zM257 96h1v1h-1zM260 96h1v1h-1zM262 96h1v1h-1zM287 96h1v1h-1zM85 97h1v1h-1zM89 97h1v1h-1zM92 97h1v1h-1zM158 97h1v1h-1zM162 97h1v1h-1zM214 97h1v1h-1zM243 97h1v1h-1zM258 97h1v1h-1zM263 97h1v1h-1zM271 97h1v1h-1zM279 97h1v1h-1zM280 97h1v1h-1zM89 98h1v1h-1zM91 98h1v1h-1zM151 98h1v1h-1zM200 98h1v1h-1zM208 98h1v1h-1zM230 98h1v1h-1zM269 98h1v1h-1zM270 98h1v1h-1zM92 99h1v1h-1zM212 99h1v1h-1zM214 99h1v1h-1zM236 99h1v1h-1zM258 99h1v1h-1zM271 99h1v1h-1zM279 99h1v1h-1zM95 100h1v1h-1zM164 100h1v1h-1zM170 100h1v1h-1zM241 100h1v1h-1zM85 101h1v1h-1zM146 101h1v1h-1zM153 101h1v1h-1zM212 101h1v1h-1zM226 101h1v1h-1zM264 101h1v1h-1zM210 102h1v1h-1zM224 102h1v1h-1z"/>
<path fill="rgb(0,0,175)" d="M152 70h1v1h-1zM158 73h1v1h-1zM157 77h1v1h-1zM155 86h1v1h-1zM91 90h1v1h-1zM93 98h1v1h-1z"/>
<path fill="rgb(0,0,50)" d="M124 142h1v1h-1zM135 142h1v1h-1zM57 143h1v1h-1zM168 143h1v1h-1zM236 144h1v1h-1zM114 145h1v1h-1zM267 145h1v1h-1zM87 146h1v1h-1zM171 146h1v1h-1zM204 146h1v1h-1zM235 146h1v1h-1zM283 146h1v1h-1zM115 147h1v1h-1zM161 147h1v1h-1zM210 147h1v1h-1zM282 147h1v1h-1zM65 148h1v1h-1zM107 148h1v1h-1zM248 148h1v1h-1zM287 148h1v1h-1zM90 149h1v1h-1zM100 149h1v1h-1zM113 149h1v1h-1zM120 149h1v1h-1zM170 149h1v1h-1zM86 150h1v1h-1zM78 151h1v1h-1zM264 151h1v1h-1zM286 151h1v1h-1zM87 152h1v1h-1zM128 152h1v1h-1zM204 152h1v1h-1zM249 152h1v1h-1zM209 153h1v1h-1zM86 154h1v1h-1zM104 154h1v1h-1zM108 154h1v1h-1zM125 154h1v1h-1zM181 154h1v1h-1zM47 155h1v1h-1zM65 155h1v1h-1zM121 155h1v1h-1zM177 155h1v1h-1zM227 155h1v1h-1zM45 156h1v1h-1zM129 156h1v1h-1zM133 156h1v1h-1zM195 156h1v1h-1zM44 157h1v1h-1zM72 157h1v1h-1zM153 157h1v1h-1zM58 158h1v1h-1zM117 158h1v1h-1zM264 158h1v1h-1zM65 159h1v1h-1zM174 159h1v1h-1zM188 159h1v1h-1zM95 160h1v1h-1zM287 160h1v1h-1zM110 161h1v1h-1zM139 161h1v1h-1zM143 161h1v1h-1zM174 161h1v1h-1zM203 161h1v1h-1zM107 162h1v1h-1zM173 162h1v1h-1zM179 162h1v1h-1zM206 162h1v1h-1zM246 162h1v1h-1zM71 163h1v1h-1zM168 163h1v1h-1zM193 163h1v1h-1zM63 164h1v1h-1zM66 164h1v1h-1zM93 164h1v1h-1zM182 164h1v1h-1zM204 164h1v1h-1zM227 164h1v1h-1zM266 164h1v1h-1zM274 164h1v1h-1zM143 165h1v1h-1zM178 165h1v1h-1zM179 165h1v1h-1zM191 165h1v1h-1zM197 165h1v1h-1zM258 165h1v1h-1zM273 165h1v1h-1zM79 166h1v1h-1zM134 166h1v1h-1zM234 167h1v1h-1zM236 167h1v1h-1zM268 167h1v1h-1zM106 168h1v1h-1zM126 168h1v1h-1zM168 168h1v1h-1zM47 169h1v1h-1zM44 170h1v1h-1zM80 170h1v1h-1zM125 170h1v1h-1zM250 170h1v1h-1zM253 170h1v1h-1zM78 171h1v1h-1zM239 171h1v1h-1zM257 171h1v1h-1zM278 171h1v1h-1zM54 172h1v1h-1zM88 172h1v1h-1zM93 172h1v1h-1zM134 172h1v1h-1zM279 172h1v1h-1zM93 173h1v1h-1zM127 173h1v1h-1zM130 173h1v1h-1zM166 173h1v1h-1zM205 173h1v1h-1zM229 173h1v1h-1zM54 174h1v1h-1zM60 174h1v1h-1zM66 174h1v1h-1zM85 174h1v1h-1zM117 174h1v1h-1zM135 174h1v1h-1zM176 174h1v1h-1zM221 174h1v1h-1zM240 174h1v1h-1zM274 174h1v1h-1zM57 175h1v1h-1zM167 175h1v1h-1zM191 175h1v1h-1zM226 175h1v1h-1zM236 175h1v1h-1zM248 175h1v1h-1zM282 175h1v1h-1zM81 176h1v1h-1zM113 176h1v1h-1zM119 176h1v1h-1zM151 176h1v1h-1zM161 176h1v1h-1zM189 176h1v1h-1zM191 176h1v1h-1zM201 176h1v1h-1zM205 176h1v1h-1zM227 176h1v1h-1zM231 176h1v1h-1zM235 176h1v1h-1zM244 176h1v1h-1zM278 176h1v1h-1zM57 177h1v1h-1zM112 177h1v1h-1zM275 177h1v1h-1zM89 178h1v1h-1zM196 178h1v1h-1zM272 178h1v1h-1zM57 179h1v1h-1zM72 179h1v1h-1zM84 179h1v1h-1zM85 179h1v1h-1zM164 179h1v1h-1zM224 179h1v1h-1zM246 179h1v1h-1zM43 180h1v1h-1zM63 180h1v1h-1zM66 180h1v1h-1zM95 180h1v1h-1zM108 180h1v1h-1zM194 180h1v1h-1zM260 180h1v1h-1zM115 181h1v1h-1zM142 181h1v1h-1zM217 181h1v1h-1zM227 181h1v1h-1zM240 181h1v1h-1zM56 182h1v1h-1zM128 182h1v1h-1zM207 182h1v1h-1zM208 182h1v1h-1zM225 182h1v1h-1zM254 182h1v1h-1zM280 182h1v1h-1zM97 183h1v1h-1zM180 183h1v1h-1zM182 183h1v1h-1zM253 183h1v1h-1zM265 183h1v1h-1zM278 183h1v1h-1zM283 183h1v1h-1zM136 184h1v1h-1zM173 184h1v1h-1zM223 184h1v1h-1zM239 184h1v1h-1zM244 184h1v1h-1zM268 184h1v1h-1zM273 184h1v1h-1zM287 184h1v1h-1zM82 185h1v1h-1zM112 185h1v1h-1zM132 185h1v1h-1zM154 185h1v1h-1zM209 185h1v1h-1zM221 185h1v1h-1zM226 185h1v1h-1zM243 185h1v1h-1zM248 185h1v1h-1zM276 185h1v1h-1zM287 185h1v1h-1zM68 186h1v1h-1zM88 186h1v1h-1zM135 186h1v1h-1zM178 186h1v1h-1zM235 186h1v1h-1zM114 187h1v1h-1zM147 187h1v1h-1zM206 187h1v1h-1zM209 187h1v1h-1zM228 187h1v1h-1zM232 187h1v1h-1zM236 187h1v1h-1zM259 187h1v1h-1zM267 187h1v1h-1zM279 187h1v1h-1zM42 188h1v1h-1zM51 188h1v1h-1zM152 188h1v1h-1zM195 188h1v1h-1zM224 188h1v1h-1zM255 188h1v1h-1zM287 188h1v1h-1zM61 189h1v1h-1zM154 189h1v1h-1zM185 189h1v1h-1zM197 189h1v1h-1zM206 189h1v1h-1zM218 189h1v1h-1zM222 189h1v1h-1zM234 189h1v1h-1zM278 189h1v1h-1zM111 190h1v1h-1zM163 190h1v1h-1zM201 190h1v1h-1zM93 191h1v1h-1zM222 191h1v1h-1zM252 191h1v1h-1zM105 192h1v1h-1zM113 192h1v1h-1zM120 192h1v1h-1zM121 192h1v1h-1zM205 192h1v1h-1zM216 192h1v1h-1zM224 192h1v1h-1zM226 192h1v1h-1zM227 192h1v1h-1zM229 192h1v1h-1zM235 192h1v1h-1zM249 192h1v1h-1zM281 192h1v1h-1zM282 192h1v1h-1zM54 193h1v1h-1zM61 193h1v1h-1zM79 193h1v1h-1zM117 193h1v1h-1zM130 193h1v1h-1zM148 193h1v1h-1zM150 193h1v1h-1zM181 193h1v1h-1zM232 193h1v1h-1zM252 193h1v1h-1zM259 193h1v1h-1zM285 193h1v1h-1zM128 194h1v1h-1zM140 194h1v1h-1zM207 194h1v1h-1zM252 194h1v1h-1zM271 194h1v1h-1zM119 195h1v1h-1zM125 195h1v1h-1zM144 195h1v1h-1zM179 195h1v1h-1zM193 195h1v1h-1zM197 195h1v1h-1zM203 195h1v1h-1zM216 195h1v1h-1zM234 195h1v1h-1zM273 195h1v1h-1zM42 196h1v1h-1zM59 196h1v1h-1zM89 196h1v1h-1zM158 196h1v1h-1zM196 196h1v1h-1zM199 196h1v1h-1zM208 196h1v1h-1zM227 196h1v1h-1zM235 196h1v1h-1zM281 196h1v1h-1zM185 197h1v1h-1zM202 197h1v1h-1zM203 197h1v1h-1zM224 197h1v1h-1zM251 197h1v1h-1zM276 197h1v1h-1zM54 198h1v1h-1zM93 198h1v1h-1zM109 198h1v1h-1zM223 198h1v1h-1zM243 198h1v1h-1zM261 198h1v1h-1zM263 198h1v1h-1zM278 198h1v1h-1zM69 199h1v1h-1zM128 199h1v1h-1zM164 199h1v1h-1zM206 199h1v1h-1zM212 199h1v1h-1zM170 200h1v1h-1zM213 200h1v1h-1zM226 200h1v1h-1zM249 200h1v1h-1zM255 200h1v1h-1zM276 200h1v1h-1zM278 200h1v1h-1zM81 201h1v1h-1zM91 201h1v1h-1zM198 201h1v1h-1zM206 201h1v1h-1zM229 201h1v1h-1zM234 201h1v1h-1zM241 201h1v1h-1zM242 201h1v1h-1zM251 201h1v1h-1zM274 201h1v1h-1zM275 201h1v1h-1zM48 202h1v1h-1zM120 202h1v1h-1zM121 202h1v1h-1zM139 202h1v1h-1zM217 202h1v1h-1zM218 202h1v1h-1zM260 202h1v1h-1zM282 202h1v1h-1zM70 203h1v1h-1zM198 203h1v1h-1zM207 203h1v1h-1zM231 203h1v1h-1zM233 203h1v1h-1zM269 203h1v1h-1zM272 203h1v1h-1zM273 203h1v1h-1zM147 204h1v1h-1zM157 204h1v1h-1zM202 204h1v1h-1zM216 204h1v1h-1zM228 204h1v1h-1zM236 204h1v1h-1zM255 204h1v1h-1zM282 204h1v1h-1zM49 205h1v1h-1zM69 205h1v1h-1zM123 205h1v1h-1zM191 205h1v1h-1zM192 205h1v1h-1zM222 205h1v1h-1zM246 205h1v1h-1zM252 205h1v1h-1zM274 205h1v1h-1zM275 205h1v1h-1zM282 205h1v1h-1zM283 205h1v1h-1zM284 205h1v1h-1zM287 205h1v1h-1zM52 206h1v1h-1zM137 206h1v1h-1zM138 206h1v1h-1zM151 206h1v1h-1zM205 206h1v1h-1zM209 206h1v1h-1zM213 206h1v1h-1zM218 206h1v1h-1zM267 206h1v1h-1zM269 206h1v1h-1zM287 206h1v1h-1zM104 207h1v1h-1zM105 207h1v1h-1zM207 207h1v1h-1zM209 207h1v1h-1zM212 207h1v1h-1zM221 207h1v1h-1zM241 207h1v1h-1zM273 207h1v1h-1zM281 207h1v1h-1zM113 208h1v1h-1zM170 208h1v1h-1zM183 208h1v1h-1zM207 208h1v1h-1zM210 208h1v1h-1zM237 208h1v1h-1zM242 208h1v1h-1zM255 208h1v1h-1zM259 208h1v1h-1zM265 208h1v1h-1zM267 208h1v1h-1zM268 208h1v1h-1zM84 209h1v1h-1zM91 209h1v1h-1zM110 209h1v1h-1zM121 209h1v1h-1zM253 209h1v1h-1zM263 209h1v1h-1zM265 209h1v1h-1zM267 209h1v1h-1zM278 209h1v1h-1zM59 210h1v1h-1zM208 210h1v1h-1zM213 210h1v1h-1zM229 210h1v1h-1zM249 210h1v1h-1zM250 210h1v1h-1zM257 210h1v1h-1zM272 210h1v1h-1zM273 210h1v1h-1zM277 210h1v1h-1zM198 211h1v1h-1zM214 211h1v1h-1zM224 211h1v1h-1zM227 211h1v1h-1zM231 211h1v1h-1zM58 212h1v1h-1zM65 212h1v1h-1zM75 212h1v1h-1zM87 212h1v1h-1zM107 212h1v1h-1zM114 212h1v1h-1zM129 212h1v1h-1zM198 212h1v1h-1zM221 212h1v1h-1zM227 212h1v1h-1zM231 212h1v1h-1zM234 212h1v1h-1zM241 212h1v1h-1zM277 212h1v1h-1zM279 212h1v1h-1zM281 212h1v1h-1zM50 213h1v1h-1zM117 213h1v1h-1zM128 213h1v1h-1zM168 213h1v1h-1zM180 213h1v1h-1zM189 213h1v1h-1zM195 213h1v1h-1zM203 213h1v1h-1zM231 213h1v1h-1zM243 213h1v1h-1zM245 213h1v1h-1zM257 213h1v1h-1zM260 213h1v1h-1zM269 213h1v1h-1zM281 213h1v1h-1zM66 214h1v1h-1zM77 214h1v1h-1zM78 214h1v1h-1zM84 214h1v1h-1zM86 214h1v1h-1zM123 214h1v1h-1zM156 214h1v1h-1zM193 214h1v1h-1zM213 214h1v1h-1zM219 214h1v1h-1zM220 214h1v1h-1zM225 214h1v1h-1zM250 214h1v1h-1zM258 214h1v1h-1zM262 214h1v1h-1zM265 214h1v1h-1zM267 214h1v1h-1zM282 214h1v1h-1zM104 215h1v1h-1zM124 215h1v1h-1zM188 215h1v1h-1zM195 215h1v1h-1zM208 215h1v1h-1zM213 215h1v1h-1zM215 215h1v1h-1zM226 215h1v1h-1zM231 215h1v1h-1zM232 215h1v1h-1zM255 215h1v1h-1zM270 215h1v1h-1zM42 216h1v1h-1zM53 216h1v1h-1zM79 216h1v1h-1zM132 216h1v1h-1zM144 216h1v1h-1zM162 216h1v1h-1zM191 216h1v1h-1zM200 216h1v1h-1zM206 216h1v1h-1zM213 216h1v1h-1zM219 216h1v1h-1zM237 216h1v1h-1zM247 216h1v1h-1zM268 216h1v1h-1zM275 216h1v1h-1zM42 217h1v1h-1zM43 217h1v1h-1zM53 217h1v1h-1zM62 217h1v1h-1zM153 217h1v1h-1zM217 217h1v1h-1zM220 217h1v1h-1zM238 217h1v1h-1zM249 217h1v1h-1zM269 217h1v1h-1zM272 217h1v1h-1zM84 218h1v1h-1zM94 218h1v1h-1zM95 218h1v1h-1zM136 218h1v1h-1zM145 218h1v1h-1zM165 218h1v1h-1zM197 218h1v1h-1zM198 218h1v1h-1zM204 218h1v1h-1zM211 218h1v1h-1zM212 218h1v1h-1zM234 218h1v1h-1zM236 218h1v1h-1zM240 218h1v1h-1zM242 218h1v1h-1zM253 218h1v1h-1zM258 218h1v1h-1zM262 218h1v1h-1zM263 218h1v1h-1zM282 218h1v1h-1zM53 219h1v1h-1zM91 219h1v1h-1zM99 219h1v1h-1zM156 219h1v1h-1zM157 219h1v1h-1zM159 219h1v1h-1zM176 219h1v1h-1zM185 219h1v1h-1zM200 219h1v1h-1zM227 219h1v1h-1zM230 219h1v1h-1zM233 219h1v1h-1zM241 219h1v1h-1zM252 219h1v1h-1zM261 219h1v1h-1zM267 219h1v1h-1zM270 219h1v1h-1zM276 219h1v1h-1zM281 219h1v1h-1zM282 219h1v1h-1zM285 219h1v1h-1zM64 220h1v1h-1zM70 220h1v1h-1zM77 220h1v1h-1zM85 220h1v1h-1zM146 220h1v1h-1zM147 220h1v1h-1zM161 220h1v1h-1zM162 220h1v1h-1zM176 220h1v1h-1zM216 220h1v1h-1zM229 220h1v1h-1zM230 220h1v1h-1zM231 220h1v1h-1zM233 220h1v1h-1zM235 220h1v1h-1zM239 220h1v1h-1zM270 220h1v1h-1zM279 220h1v1h-1zM45 221h1v1h-1zM66 221h1v1h-1zM96 221h1v1h-1zM110 221h1v1h-1zM154 221h1v1h-1zM156 221h1v1h-1zM214 221h1v1h-1zM215 221h1v1h-1zM230 221h1v1h-1zM243 221h1v1h-1zM249 221h1v1h-1zM251 221h1v1h-1zM263 221h1v1h-1zM265 221h1v1h-1zM272 221h1v1h-1zM274 221h1v1h-1zM280 221h1v1h-1zM45 222h1v1h-1zM74 222h1v1h-1zM88 222h1v1h-1zM101 222h1v1h-1zM141 222h1v1h-1zM197 222h1v1h-1zM200 222h1v1h-1zM206 222h1v1h-1zM217 222h1v1h-1zM219 222h1v1h-1zM224 222h1v1h-1zM237 222h1v1h-1zM238 222h1v1h-1zM239 222h1v1h-1zM249 222h1v1h-1zM257 222h1v1h-1zM262 222h1v1h-1zM272 222h1v1h-1zM279 222h1v1h-1zM47 223h1v1h-1zM69 223h1v1h-1zM91 223h1v1h-1zM156 223h1v1h-1zM167 223h1v1h-1zM189 223h1v1h-1zM193 223h1v1h-1zM195 223h1v1h-1zM206 223h1v1h-1zM216 223h1v1h-1zM226 223h1v1h-1zM244 223h1v1h-1zM247 223h1v1h-1zM255 223h1v1h-1zM261 223h1v1h-1zM264 223h1v1h-1zM265 223h1v1h-1zM277 223h1v1h-1zM278 223h1v1h-1zM287 223h1v1h-1zM68 224h1v1h-1zM83 224h1v1h-1zM104 224h1v1h-1zM123 224h1v1h-1zM131 224h1v1h-1zM150 224h1v1h-1zM159 224h1v1h-1zM177 224h1v1h-1zM207 224h1v1h-1zM211 224h1v1h-1zM213 224h1v1h-1zM214 224h1v1h-1zM215 224h1v1h-1zM217 224h1v1h-1zM221 224h1v1h-1zM229 224h1v1h-1zM240 224h1v1h-1zM242 224h1v1h-1zM247 224h1v1h-1zM249 224h1v1h-1zM256 224h1v1h-1zM268 224h1v1h-1zM270 224h1v1h-1zM277 224h1v1h-1zM283 224h1v1h-1zM72 225h1v1h-1zM75 225h1v1h-1zM104 225h1v1h-1zM156 225h1v1h-1zM207 225h1v1h-1zM208 225h1v1h-1zM214 225h1v1h-1zM234 225h1v1h-1zM242 225h1v1h-1zM257 225h1v1h-1zM258 225h1v1h-1zM270 225h1v1h-1zM274 225h1v1h-1zM280 225h1v1h-1zM284 225h1v1h-1zM286 225h1v1h-1zM151 226h1v1h-1zM170 226h1v1h-1zM184 226h1v1h-1zM197 226h1v1h-1zM227 226h1v1h-1zM230 226h1v1h-1zM232 226h1v1h-1zM251 226h1v1h-1zM254 226h1v1h-1zM283 226h1v1h-1zM284 226h1v1h-1zM67 227h1v1h-1zM99 227h1v1h-1zM122 227h1v1h-1zM134 227h1v1h-1zM148 227h1v1h-1zM159 227h1v1h-1zM163 227h1v1h-1zM164 227h1v1h-1zM186 227h1v1h-1zM199 227h1v1h-1zM211 227h1v1h-1zM212 227h1v1h-1zM222 227h1v1h-1zM230 227h1v1h-1zM234 227h1v1h-1zM272 227h1v1h-1zM273 227h1v1h-1zM275 227h1v1h-1zM280 227h1v1h-1zM78 228h1v1h-1zM110 228h1v1h-1zM123 228h1v1h-1zM135 228h1v1h-1zM159 228h1v1h-1zM199 228h1v1h-1zM201 228h1v1h-1zM212 228h1v1h-1zM217 228h1v1h-1zM220 228h1v1h-1zM224 228h1v1h-1zM234 228h1v1h-1zM246 228h1v1h-1zM260 228h1v1h-1zM271 228h1v1h-1zM283 228h1v1h-1zM285 228h1v1h-1zM52 229h1v1h-1zM72 229h1v1h-1zM98 229h1v1h-1zM153 229h1v1h-1zM154 229h1v1h-1zM163 229h1v1h-1zM170 229h1v1h-1zM188 229h1v1h-1zM194 229h1v1h-1zM196 229h1v1h-1zM208 229h1v1h-1zM214 229h1v1h-1zM216 229h1v1h-1zM217 229h1v1h-1zM227 229h1v1h-1zM232 229h1v1h-1zM235 229h1v1h-1zM244 229h1v1h-1zM251 229h1v1h-1zM263 229h1v1h-1zM267 229h1v1h-1zM285 229h1v1h-1zM47 230h1v1h-1zM53 230h1v1h-1zM63 230h1v1h-1zM139 230h1v1h-1zM146 230h1v1h-1zM150 230h1v1h-1zM172 230h1v1h-1zM181 230h1v1h-1zM188 230h1v1h-1zM195 230h1v1h-1zM198 230h1v1h-1zM201 230h1v1h-1zM206 230h1v1h-1zM219 230h1v1h-1zM230 230h1v1h-1zM251 230h1v1h-1zM252 230h1v1h-1zM260 230h1v1h-1zM273 230h1v1h-1zM281 230h1v1h-1zM70 231h1v1h-1zM84 231h1v1h-1zM104 231h1v1h-1zM110 231h1v1h-1zM157 231h1v1h-1zM176 231h1v1h-1zM177 231h1v1h-1zM181 231h1v1h-1zM183 231h1v1h-1zM224 231h1v1h-1zM236 231h1v1h-1zM246 231h1v1h-1zM261 231h1v1h-1zM276 231h1v1h-1zM284 231h1v1h-1zM285 231h1v1h-1zM286 231h1v1h-1zM71 232h1v1h-1zM140 232h1v1h-1zM141 232h1v1h-1zM150 232h1v1h-1zM153 232h1v1h-1zM156 232h1v1h-1zM164 232h1v1h-1zM195 232h1v1h-1zM200 232h1v1h-1zM207 232h1v1h-1zM218 232h1v1h-1zM227 232h1v1h-1zM236 232h1v1h-1zM239 232h1v1h-1zM243 232h1v1h-1zM257 232h1v1h-1zM261 232h1v1h-1zM263 232h1v1h-1zM265 232h1v1h-1zM279 232h1v1h-1zM61 233h1v1h-1zM63 233h1v1h-1zM148 233h1v1h-1zM153 233h1v1h-1zM160 233h1v1h-1zM165 233h1v1h-1zM178 233h1v1h-1zM212 233h1v1h-1zM229 233h1v1h-1zM230 233h1v1h-1zM234 233h1v1h-1zM250 233h1v1h-1zM261 233h1v1h-1zM267 233h1v1h-1zM276 233h1v1h-1zM47 234h1v1h-1zM68 234h1v1h-1zM83 234h1v1h-1zM98 234h1v1h-1zM114 234h1v1h-1zM119 234h1v1h-1zM156 234h1v1h-1zM167 234h1v1h-1zM211 234h1v1h-1zM225 234h1v1h-1zM254 234h1v1h-1zM259 234h1v1h-1zM261 234h1v1h-1zM81 235h1v1h-1zM130 235h1v1h-1zM156 235h1v1h-1zM192 235h1v1h-1zM220 235h1v1h-1zM243 235h1v1h-1zM245 235h1v1h-1zM247 235h1v1h-1zM254 235h1v1h-1zM267 235h1v1h-1zM273 235h1v1h-1zM281 235h1v1h-1zM282 235h1v1h-1zM80 236h1v1h-1zM94 236h1v1h-1zM98 236h1v1h-1zM105 236h1v1h-1zM107 236h1v1h-1zM111 236h1v1h-1zM155 236h1v1h-1zM158 236h1v1h-1zM215 236h1v1h-1zM227 236h1v1h-1zM249 236h1v1h-1zM280 236h1v1h-1zM284 236h1v1h-1zM93 237h1v1h-1zM107 237h1v1h-1zM111 237h1v1h-1zM112 237h1v1h-1zM136 237h1v1h-1zM158 237h1v1h-1zM159 237h1v1h-1zM203 237h1v1h-1zM211 237h1v1h-1zM221 237h1v1h-1zM235 237h1v1h-1zM246 237h1v1h-1zM248 237h1v1h-1zM254 237h1v1h-1zM255 237h1v1h-1zM258 237h1v1h-1zM266 237h1v1h-1zM281 237h1v1h-1zM139 238h1v1h-1zM185 238h1v1h-1zM202 238h1v1h-1zM225 238h1v1h-1zM226 238h1v1h-1zM246 238h1v1h-1zM247 238h1v1h-1zM250 238h1v1h-1zM263 238h1v1h-1zM271 238h1v1h-1zM273 238h1v1h-1zM278 238h1v1h-1z"/>
<path fill="rgb(0,0,85)" d="M105 142h1v1h-1zM125 142h1v1h-1zM178 142h1v1h-1zM223 142h1v1h-1zM250 142h1v1h-1zM169 143h1v1h-1zM255 143h1v1h-1zM271 143h1v1h-1zM87 144h1v1h-1zM197 145h1v1h-1zM64 146h1v1h-1zM105 146h1v1h-1zM117 146h1v1h-1zM217 146h1v1h-1zM42 147h1v1h-1zM109 147h1v1h-1zM125 147h1v1h-1zM255 147h1v1h-1zM274 147h1v1h-1zM76 148h1v1h-1zM100 148h1v1h-1zM140 148h1v1h-1zM269 148h1v1h-1zM171 149h1v1h-1zM225 149h1v1h-1zM239 149h1v1h-1zM265 149h1v1h-1zM153 150h1v1h-1zM168 150h1v1h-1zM182 150h1v1h-1zM160 151h1v1h-1zM58 153h1v1h-1zM78 153h1v1h-1zM98 153h1v1h-1zM215 153h1v1h-1zM50 154h1v1h-1zM80 154h1v1h-1zM179 154h1v1h-1zM124 155h1v1h-1zM282 155h1v1h-1zM69 156h1v1h-1zM75 156h1v1h-1zM141 156h1v1h-1zM179 156h1v1h-1zM211 156h1v1h-1zM244 156h1v1h-1zM279 156h1v1h-1zM46 157h1v1h-1zM147 157h1v1h-1zM287 157h1v1h-1zM182 158h1v1h-1zM57 159h1v1h-1zM68 159h1v1h-1zM89 159h1v1h-1zM254 159h1v1h-1zM232 160h1v1h-1zM276 160h1v1h-1zM281 160h1v1h-1zM45 161h1v1h-1zM182 161h1v1h-1zM195 161h1v1h-1zM98 162h1v1h-1zM194 162h1v1h-1zM209 162h1v1h-1zM279 162h1v1h-1zM52 163h1v1h-1zM170 163h1v1h-1zM215 163h1v1h-1zM260 163h1v1h-1zM276 163h1v1h-1zM50 164h1v1h-1zM125 164h1v1h-1zM180 164h1v1h-1zM193 164h1v1h-1zM270 164h1v1h-1zM286 164h1v1h-1zM75 165h1v1h-1zM119 165h1v1h-1zM168 165h1v1h-1zM206 165h1v1h-1zM55 166h1v1h-1zM108 166h1v1h-1zM126 166h1v1h-1zM145 166h1v1h-1zM184 167h1v1h-1zM202 167h1v1h-1zM255 167h1v1h-1zM278 167h1v1h-1zM69 168h1v1h-1zM102 168h1v1h-1zM171 168h1v1h-1zM181 168h1v1h-1zM196 168h1v1h-1zM231 168h1v1h-1zM107 169h1v1h-1zM118 169h1v1h-1zM239 169h1v1h-1zM270 169h1v1h-1zM177 170h1v1h-1zM213 170h1v1h-1zM252 170h1v1h-1zM284 170h1v1h-1zM79 171h1v1h-1zM110 171h1v1h-1zM197 171h1v1h-1zM242 171h1v1h-1zM47 172h1v1h-1zM62 172h1v1h-1zM182 172h1v1h-1zM199 172h1v1h-1zM87 173h1v1h-1zM102 173h1v1h-1zM147 173h1v1h-1zM225 173h1v1h-1zM107 174h1v1h-1zM150 174h1v1h-1zM186 174h1v1h-1zM242 174h1v1h-1zM48 175h1v1h-1zM91 175h1v1h-1zM180 175h1v1h-1zM206 175h1v1h-1zM284 175h1v1h-1zM125 176h1v1h-1zM149 176h1v1h-1zM241 176h1v1h-1zM242 176h1v1h-1zM267 176h1v1h-1zM282 176h1v1h-1zM50 177h1v1h-1zM98 177h1v1h-1zM127 177h1v1h-1zM132 177h1v1h-1zM136 177h1v1h-1zM207 177h1v1h-1zM227 177h1v1h-1zM255 177h1v1h-1zM105 178h1v1h-1zM174 178h1v1h-1zM200 178h1v1h-1zM220 178h1v1h-1zM265 178h1v1h-1zM287 178h1v1h-1zM105 179h1v1h-1zM121 179h1v1h-1zM138 179h1v1h-1zM151 179h1v1h-1zM188 179h1v1h-1zM189 179h1v1h-1zM212 179h1v1h-1zM222 179h1v1h-1zM244 179h1v1h-1zM257 179h1v1h-1zM267 179h1v1h-1zM168 180h1v1h-1zM186 180h1v1h-1zM231 180h1v1h-1zM250 180h1v1h-1zM279 180h1v1h-1zM114 181h1v1h-1zM178 181h1v1h-1zM200 181h1v1h-1zM202 181h1v1h-1zM213 181h1v1h-1zM221 181h1v1h-1zM258 181h1v1h-1zM263 181h1v1h-1zM277 181h1v1h-1zM41 182h1v1h-1zM65 182h1v1h-1zM108 182h1v1h-1zM178 182h1v1h-1zM199 182h1v1h-1zM234 182h1v1h-1zM286 182h1v1h-1zM51 183h1v1h-1zM89 183h1v1h-1zM139 183h1v1h-1zM141 183h1v1h-1zM177 183h1v1h-1zM199 183h1v1h-1zM203 183h1v1h-1zM86 184h1v1h-1zM153 184h1v1h-1zM167 184h1v1h-1zM194 184h1v1h-1zM95 185h1v1h-1zM109 185h1v1h-1zM123 185h1v1h-1zM125 185h1v1h-1zM178 185h1v1h-1zM188 185h1v1h-1zM191 185h1v1h-1zM237 185h1v1h-1zM260 185h1v1h-1zM46 186h1v1h-1zM58 186h1v1h-1zM145 186h1v1h-1zM209 186h1v1h-1zM221 186h1v1h-1zM246 186h1v1h-1zM126 187h1v1h-1zM142 187h1v1h-1zM193 187h1v1h-1zM200 187h1v1h-1zM210 187h1v1h-1zM237 187h1v1h-1zM244 187h1v1h-1zM257 187h1v1h-1zM109 188h1v1h-1zM143 188h1v1h-1zM186 188h1v1h-1zM207 188h1v1h-1zM245 188h1v1h-1zM258 188h1v1h-1zM273 188h1v1h-1zM280 188h1v1h-1zM125 189h1v1h-1zM205 189h1v1h-1zM233 189h1v1h-1zM238 189h1v1h-1zM167 190h1v1h-1zM176 190h1v1h-1zM204 190h1v1h-1zM217 190h1v1h-1zM244 190h1v1h-1zM254 190h1v1h-1zM50 191h1v1h-1zM52 191h1v1h-1zM139 191h1v1h-1zM149 191h1v1h-1zM169 191h1v1h-1zM203 191h1v1h-1zM214 191h1v1h-1zM219 191h1v1h-1zM42 192h1v1h-1zM124 192h1v1h-1zM158 192h1v1h-1zM201 192h1v1h-1zM223 192h1v1h-1zM256 192h1v1h-1zM268 192h1v1h-1zM274 192h1v1h-1zM41 193h1v1h-1zM50 193h1v1h-1zM80 193h1v1h-1zM203 193h1v1h-1zM209 193h1v1h-1zM231 193h1v1h-1zM236 193h1v1h-1zM239 193h1v1h-1zM256 193h1v1h-1zM265 193h1v1h-1zM277 193h1v1h-1zM58 194h1v1h-1zM123 194h1v1h-1zM219 194h1v1h-1zM238 194h1v1h-1zM262 194h1v1h-1zM118 195h1v1h-1zM127 195h1v1h-1zM176 195h1v1h-1zM209 195h1v1h-1zM253 195h1v1h-1zM256 195h1v1h-1zM280 195h1v1h-1zM67 196h1v1h-1zM68 196h1v1h-1zM70 196h1v1h-1zM102 196h1v1h-1zM116 196h1v1h-1zM127 196h1v1h-1zM128 196h1v1h-1zM132 196h1v1h-1zM140 196h1v1h-1zM143 196h1v1h-1zM157 196h1v1h-1zM160 196h1v1h-1zM180 196h1v1h-1zM189 196h1v1h-1zM260 196h1v1h-1zM263 196h1v1h-1zM81 197h1v1h-1zM89 197h1v1h-1zM114 197h1v1h-1zM144 197h1v1h-1zM151 197h1v1h-1zM156 197h1v1h-1zM157 197h1v1h-1zM175 197h1v1h-1zM181 197h1v1h-1zM211 197h1v1h-1zM262 197h1v1h-1zM271 197h1v1h-1zM60 198h1v1h-1zM91 198h1v1h-1zM148 198h1v1h-1zM160 198h1v1h-1zM186 198h1v1h-1zM211 198h1v1h-1zM216 198h1v1h-1zM241 198h1v1h-1zM246 198h1v1h-1zM97 199h1v1h-1zM107 199h1v1h-1zM192 199h1v1h-1zM278 199h1v1h-1zM41 200h1v1h-1zM108 200h1v1h-1zM115 200h1v1h-1zM171 200h1v1h-1zM189 200h1v1h-1zM211 200h1v1h-1zM215 200h1v1h-1zM223 200h1v1h-1zM237 200h1v1h-1zM254 200h1v1h-1zM265 200h1v1h-1zM270 200h1v1h-1zM65 201h1v1h-1zM107 201h1v1h-1zM151 201h1v1h-1zM178 201h1v1h-1zM217 201h1v1h-1zM227 201h1v1h-1zM238 201h1v1h-1zM111 202h1v1h-1zM132 202h1v1h-1zM174 202h1v1h-1zM187 202h1v1h-1zM212 202h1v1h-1zM229 202h1v1h-1zM237 202h1v1h-1zM256 202h1v1h-1zM261 202h1v1h-1zM263 202h1v1h-1zM281 202h1v1h-1zM283 202h1v1h-1zM284 202h1v1h-1zM286 202h1v1h-1zM51 203h1v1h-1zM124 203h1v1h-1zM125 203h1v1h-1zM149 203h1v1h-1zM201 203h1v1h-1zM237 203h1v1h-1zM246 203h1v1h-1zM258 203h1v1h-1zM274 203h1v1h-1zM286 203h1v1h-1zM76 204h1v1h-1zM86 204h1v1h-1zM182 204h1v1h-1zM207 204h1v1h-1zM213 204h1v1h-1zM235 204h1v1h-1zM241 204h1v1h-1zM256 204h1v1h-1zM281 204h1v1h-1zM59 205h1v1h-1zM85 205h1v1h-1zM196 205h1v1h-1zM226 205h1v1h-1zM263 205h1v1h-1zM281 205h1v1h-1zM59 206h1v1h-1zM223 206h1v1h-1zM260 206h1v1h-1zM261 206h1v1h-1zM280 206h1v1h-1zM79 207h1v1h-1zM122 207h1v1h-1zM129 207h1v1h-1zM162 207h1v1h-1zM199 207h1v1h-1zM206 207h1v1h-1zM214 207h1v1h-1zM222 207h1v1h-1zM225 207h1v1h-1zM277 207h1v1h-1zM278 207h1v1h-1zM52 208h1v1h-1zM61 208h1v1h-1zM88 208h1v1h-1zM99 208h1v1h-1zM108 208h1v1h-1zM187 208h1v1h-1zM235 208h1v1h-1zM240 208h1v1h-1zM249 208h1v1h-1zM49 209h1v1h-1zM71 209h1v1h-1zM77 209h1v1h-1zM103 209h1v1h-1zM114 209h1v1h-1zM127 209h1v1h-1zM165 209h1v1h-1zM169 209h1v1h-1zM198 209h1v1h-1zM199 209h1v1h-1zM209 209h1v1h-1zM220 209h1v1h-1zM242 209h1v1h-1zM258 209h1v1h-1zM268 209h1v1h-1zM269 209h1v1h-1zM280 209h1v1h-1zM286 209h1v1h-1zM54 210h1v1h-1zM77 210h1v1h-1zM83 210h1v1h-1zM84 210h1v1h-1zM104 210h1v1h-1zM108 210h1v1h-1zM115 210h1v1h-1zM138 210h1v1h-1zM216 210h1v1h-1zM239 210h1v1h-1zM283 210h1v1h-1zM287 210h1v1h-1zM93 211h1v1h-1zM95 211h1v1h-1zM104 211h1v1h-1zM184 211h1v1h-1zM207 211h1v1h-1zM233 211h1v1h-1zM239 211h1v1h-1zM244 211h1v1h-1zM253 211h1v1h-1zM271 211h1v1h-1zM275 211h1v1h-1zM285 211h1v1h-1zM287 211h1v1h-1zM47 212h1v1h-1zM71 212h1v1h-1zM180 212h1v1h-1zM187 212h1v1h-1zM194 212h1v1h-1zM203 212h1v1h-1zM215 212h1v1h-1zM216 212h1v1h-1zM230 212h1v1h-1zM239 212h1v1h-1zM243 212h1v1h-1zM260 212h1v1h-1zM265 212h1v1h-1zM272 212h1v1h-1zM122 213h1v1h-1zM134 213h1v1h-1zM164 213h1v1h-1zM167 213h1v1h-1zM192 213h1v1h-1zM204 213h1v1h-1zM226 213h1v1h-1zM254 213h1v1h-1zM274 213h1v1h-1zM275 213h1v1h-1zM45 214h1v1h-1zM68 214h1v1h-1zM149 214h1v1h-1zM152 214h1v1h-1zM168 214h1v1h-1zM200 214h1v1h-1zM205 214h1v1h-1zM263 214h1v1h-1zM277 214h1v1h-1zM284 214h1v1h-1zM49 215h1v1h-1zM54 215h1v1h-1zM80 215h1v1h-1zM86 215h1v1h-1zM91 215h1v1h-1zM120 215h1v1h-1zM174 215h1v1h-1zM199 215h1v1h-1zM201 215h1v1h-1zM210 215h1v1h-1zM218 215h1v1h-1zM236 215h1v1h-1zM237 215h1v1h-1zM243 215h1v1h-1zM266 215h1v1h-1zM271 215h1v1h-1zM278 215h1v1h-1zM66 216h1v1h-1zM68 216h1v1h-1zM133 216h1v1h-1zM141 216h1v1h-1zM153 216h1v1h-1zM154 216h1v1h-1zM157 216h1v1h-1zM209 216h1v1h-1zM215 216h1v1h-1zM233 216h1v1h-1zM234 216h1v1h-1zM235 216h1v1h-1zM239 216h1v1h-1zM246 216h1v1h-1zM253 216h1v1h-1zM260 216h1v1h-1zM282 216h1v1h-1zM284 216h1v1h-1zM97 217h1v1h-1zM146 217h1v1h-1zM150 217h1v1h-1zM155 217h1v1h-1zM161 217h1v1h-1zM162 217h1v1h-1zM170 217h1v1h-1zM171 217h1v1h-1zM197 217h1v1h-1zM203 217h1v1h-1zM222 217h1v1h-1zM231 217h1v1h-1zM244 217h1v1h-1zM252 217h1v1h-1zM266 217h1v1h-1zM275 217h1v1h-1zM278 217h1v1h-1zM279 217h1v1h-1zM285 217h1v1h-1zM65 218h1v1h-1zM147 218h1v1h-1zM158 218h1v1h-1zM184 218h1v1h-1zM224 218h1v1h-1zM226 218h1v1h-1zM227 218h1v1h-1zM229 218h1v1h-1zM241 218h1v1h-1zM264 218h1v1h-1zM269 218h1v1h-1zM270 218h1v1h-1zM271 218h1v1h-1zM273 218h1v1h-1zM276 218h1v1h-1zM277 218h1v1h-1zM280 218h1v1h-1zM281 218h1v1h-1zM80 219h1v1h-1zM88 219h1v1h-1zM123 219h1v1h-1zM134 219h1v1h-1zM143 219h1v1h-1zM147 219h1v1h-1zM161 219h1v1h-1zM181 219h1v1h-1zM193 219h1v1h-1zM198 219h1v1h-1zM207 219h1v1h-1zM208 219h1v1h-1zM211 219h1v1h-1zM224 219h1v1h-1zM228 219h1v1h-1zM239 219h1v1h-1zM268 219h1v1h-1zM273 219h1v1h-1zM279 219h1v1h-1zM286 219h1v1h-1zM101 220h1v1h-1zM134 220h1v1h-1zM135 220h1v1h-1zM136 220h1v1h-1zM143 220h1v1h-1zM153 220h1v1h-1zM154 220h1v1h-1zM155 220h1v1h-1zM159 220h1v1h-1zM166 220h1v1h-1zM214 220h1v1h-1zM215 220h1v1h-1zM221 220h1v1h-1zM228 220h1v1h-1zM237 220h1v1h-1zM238 220h1v1h-1zM240 220h1v1h-1zM242 220h1v1h-1zM243 220h1v1h-1zM259 220h1v1h-1zM264 220h1v1h-1zM268 220h1v1h-1zM275 220h1v1h-1zM277 220h1v1h-1zM282 220h1v1h-1zM83 221h1v1h-1zM142 221h1v1h-1zM151 221h1v1h-1zM164 221h1v1h-1zM207 221h1v1h-1zM218 221h1v1h-1zM219 221h1v1h-1zM222 221h1v1h-1zM227 221h1v1h-1zM237 221h1v1h-1zM239 221h1v1h-1zM240 221h1v1h-1zM244 221h1v1h-1zM250 221h1v1h-1zM264 221h1v1h-1zM266 221h1v1h-1zM275 221h1v1h-1zM286 221h1v1h-1zM49 222h1v1h-1zM57 222h1v1h-1zM62 222h1v1h-1zM94 222h1v1h-1zM153 222h1v1h-1zM165 222h1v1h-1zM167 222h1v1h-1zM192 222h1v1h-1zM208 222h1v1h-1zM213 222h1v1h-1zM226 222h1v1h-1zM229 222h1v1h-1zM241 222h1v1h-1zM274 222h1v1h-1zM282 222h1v1h-1zM52 223h1v1h-1zM98 223h1v1h-1zM115 223h1v1h-1zM142 223h1v1h-1zM152 223h1v1h-1zM154 223h1v1h-1zM161 223h1v1h-1zM162 223h1v1h-1zM210 223h1v1h-1zM211 223h1v1h-1zM214 223h1v1h-1zM231 223h1v1h-1zM236 223h1v1h-1zM242 223h1v1h-1zM245 223h1v1h-1zM252 223h1v1h-1zM262 223h1v1h-1zM266 223h1v1h-1zM281 223h1v1h-1zM46 224h1v1h-1zM47 224h1v1h-1zM128 224h1v1h-1zM155 224h1v1h-1zM167 224h1v1h-1zM198 224h1v1h-1zM206 224h1v1h-1zM223 224h1v1h-1zM241 224h1v1h-1zM244 224h1v1h-1zM255 224h1v1h-1zM262 224h1v1h-1zM273 224h1v1h-1zM287 224h1v1h-1zM131 225h1v1h-1zM141 225h1v1h-1zM165 225h1v1h-1zM211 225h1v1h-1zM213 225h1v1h-1zM215 225h1v1h-1zM216 225h1v1h-1zM220 225h1v1h-1zM266 225h1v1h-1zM272 225h1v1h-1zM275 225h1v1h-1zM276 225h1v1h-1zM116 226h1v1h-1zM145 226h1v1h-1zM158 226h1v1h-1zM210 226h1v1h-1zM224 226h1v1h-1zM235 226h1v1h-1zM242 226h1v1h-1zM250 226h1v1h-1zM257 226h1v1h-1zM258 226h1v1h-1zM263 226h1v1h-1zM268 226h1v1h-1zM270 226h1v1h-1zM282 226h1v1h-1zM125 227h1v1h-1zM140 227h1v1h-1zM141 227h1v1h-1zM143 227h1v1h-1zM150 227h1v1h-1zM207 227h1v1h-1zM224 227h1v1h-1zM246 227h1v1h-1zM250 227h1v1h-1zM258 227h1v1h-1zM260 227h1v1h-1zM267 227h1v1h-1zM268 227h1v1h-1zM284 227h1v1h-1zM285 227h1v1h-1zM91 228h1v1h-1zM93 228h1v1h-1zM97 228h1v1h-1zM134 228h1v1h-1zM139 228h1v1h-1zM150 228h1v1h-1zM153 228h1v1h-1zM164 228h1v1h-1zM165 228h1v1h-1zM168 228h1v1h-1zM191 228h1v1h-1zM192 228h1v1h-1zM197 228h1v1h-1zM206 228h1v1h-1zM207 228h1v1h-1zM221 228h1v1h-1zM227 228h1v1h-1zM241 228h1v1h-1zM247 228h1v1h-1zM251 228h1v1h-1zM255 228h1v1h-1zM259 228h1v1h-1zM278 228h1v1h-1zM280 228h1v1h-1zM287 228h1v1h-1zM78 229h1v1h-1zM122 229h1v1h-1zM134 229h1v1h-1zM155 229h1v1h-1zM158 229h1v1h-1zM169 229h1v1h-1zM195 229h1v1h-1zM219 229h1v1h-1zM222 229h1v1h-1zM228 229h1v1h-1zM236 229h1v1h-1zM242 229h1v1h-1zM255 229h1v1h-1zM260 229h1v1h-1zM262 229h1v1h-1zM264 229h1v1h-1zM266 229h1v1h-1zM274 229h1v1h-1zM284 229h1v1h-1zM83 230h1v1h-1zM92 230h1v1h-1zM115 230h1v1h-1zM136 230h1v1h-1zM145 230h1v1h-1zM151 230h1v1h-1zM156 230h1v1h-1zM159 230h1v1h-1zM164 230h1v1h-1zM167 230h1v1h-1zM179 230h1v1h-1zM191 230h1v1h-1zM203 230h1v1h-1zM204 230h1v1h-1zM243 230h1v1h-1zM261 230h1v1h-1zM268 230h1v1h-1zM274 230h1v1h-1zM41 231h1v1h-1zM78 231h1v1h-1zM91 231h1v1h-1zM161 231h1v1h-1zM192 231h1v1h-1zM195 231h1v1h-1zM207 231h1v1h-1zM210 231h1v1h-1zM221 231h1v1h-1zM232 231h1v1h-1zM248 231h1v1h-1zM252 231h1v1h-1zM255 231h1v1h-1zM263 231h1v1h-1zM279 231h1v1h-1zM280 231h1v1h-1zM52 232h1v1h-1zM97 232h1v1h-1zM115 232h1v1h-1zM158 232h1v1h-1zM174 232h1v1h-1zM201 232h1v1h-1zM240 232h1v1h-1zM260 232h1v1h-1zM276 232h1v1h-1zM286 232h1v1h-1zM72 233h1v1h-1zM92 233h1v1h-1zM120 233h1v1h-1zM162 233h1v1h-1zM169 233h1v1h-1zM196 233h1v1h-1zM215 233h1v1h-1zM225 233h1v1h-1zM232 233h1v1h-1zM237 233h1v1h-1zM251 233h1v1h-1zM263 233h1v1h-1zM280 233h1v1h-1zM282 233h1v1h-1zM41 234h1v1h-1zM49 234h1v1h-1zM54 234h1v1h-1zM57 234h1v1h-1zM74 234h1v1h-1zM94 234h1v1h-1zM116 234h1v1h-1zM135 234h1v1h-1zM147 234h1v1h-1zM150 234h1v1h-1zM159 234h1v1h-1zM162 234h1v1h-1zM163 234h1v1h-1zM181 234h1v1h-1zM228 234h1v1h-1zM231 234h1v1h-1zM236 234h1v1h-1zM237 234h1v1h-1zM240 234h1v1h-1zM263 234h1v1h-1zM274 234h1v1h-1zM277 234h1v1h-1zM282 234h1v1h-1zM283 234h1v1h-1zM51 235h1v1h-1zM93 235h1v1h-1zM112 235h1v1h-1zM150 235h1v1h-1zM154 235h1v1h-1zM161 235h1v1h-1zM167 235h1v1h-1zM183 235h1v1h-1zM201 235h1v1h-1zM204 235h1v1h-1zM207 235h1v1h-1zM213 235h1v1h-1zM217 235h1v1h-1zM218 235h1v1h-1zM230 235h1v1h-1zM242 235h1v1h-1zM244 235h1v1h-1zM253 235h1v1h-1zM259 235h1v1h-1zM266 235h1v1h-1zM280 235h1v1h-1zM71 236h1v1h-1zM74 236h1v1h-1zM99 236h1v1h-1zM128 236h1v1h-1zM147 236h1v1h-1zM148 236h1v1h-1zM157 236h1v1h-1zM168 236h1v1h-1zM199 236h1v1h-1zM209 236h1v1h-1zM217 236h1v1h-1zM252 236h1v1h-1zM255 236h1v1h-1zM285 236h1v1h-1zM66 237h1v1h-1zM87 237h1v1h-1zM124 237h1v1h-1zM205 237h1v1h-1zM208 237h1v1h-1zM249 237h1v1h-1zM263 237h1v1h-1zM269 237h1v1h-1zM161 238h1v1h-1zM162 238h1v1h-1zM181 238h1v1h-1zM192 238h1v1h-1zM241 238h1v1h-1zM243 238h1v1h-1zM244 238h1v1h-1zM253 238h1v1h-1zM269 238h1v1h-1z"/>
<path fill="rgb(0,0,125)" d="M126 151h1v1h-1zM189 161h1v1h-1zM89 167h1v1h-1zM164 169h1v1h-1zM204 169h1v1h-1zM100 178h1v1h-1zM81 183h1v1h-1zM251 183h1v1h-1zM254 183h1v1h-1zM257 188h1v1h-1zM215 190h1v1h-1zM262 190h1v1h-1zM62 191h1v1h-1zM264 191h1v1h-1zM213 193h1v1h-1zM278 193h1v1h-1zM47 194h1v1h-1zM172 194h1v1h-1zM259 195h1v1h-1zM236 196h1v1h-1zM257 197h1v1h-1zM268 197h1v1h-1zM270 197h1v1h-1zM200 198h1v1h-1zM219 201h1v1h-1zM258 201h1v1h-1zM49 202h1v1h-1zM275 202h1v1h-1zM79 203h1v1h-1zM160 203h1v1h-1zM235 203h1v1h-1zM261 203h1v1h-1zM267 203h1v1h-1zM284 203h1v1h-1zM225 204h1v1h-1zM246 204h1v1h-1zM257 204h1v1h-1zM274 204h1v1h-1zM126 205h1v1h-1zM224 205h1v1h-1zM231 205h1v1h-1zM262 206h1v1h-1zM274 206h1v1h-1zM137 207h1v1h-1zM220 207h1v1h-1zM227 207h1v1h-1zM244 207h1v1h-1zM254 207h1v1h-1zM275 207h1v1h-1zM217 208h1v1h-1zM233 208h1v1h-1zM250 208h1v1h-1zM269 208h1v1h-1zM172 209h1v1h-1zM232 209h1v1h-1zM251 209h1v1h-1zM252 209h1v1h-1zM259 209h1v1h-1zM281 209h1v1h-1zM283 209h1v1h-1zM255 210h1v1h-1zM261 210h1v1h-1zM211 211h1v1h-1zM240 211h1v1h-1zM251 211h1v1h-1zM252 211h1v1h-1zM254 211h1v1h-1zM258 211h1v1h-1zM279 211h1v1h-1zM104 212h1v1h-1zM207 212h1v1h-1zM225 212h1v1h-1zM251 212h1v1h-1zM252 212h1v1h-1zM263 212h1v1h-1zM266 212h1v1h-1zM269 212h1v1h-1zM273 212h1v1h-1zM171 213h1v1h-1zM207 213h1v1h-1zM214 213h1v1h-1zM215 213h1v1h-1zM235 213h1v1h-1zM250 213h1v1h-1zM256 213h1v1h-1zM259 213h1v1h-1zM261 213h1v1h-1zM273 213h1v1h-1zM282 213h1v1h-1zM198 214h1v1h-1zM207 214h1v1h-1zM217 214h1v1h-1zM227 214h1v1h-1zM230 214h1v1h-1zM245 214h1v1h-1zM249 214h1v1h-1zM261 214h1v1h-1zM93 215h1v1h-1zM167 215h1v1h-1zM207 215h1v1h-1zM209 215h1v1h-1zM211 215h1v1h-1zM212 215h1v1h-1zM214 215h1v1h-1zM241 215h1v1h-1zM244 215h1v1h-1zM264 215h1v1h-1zM273 215h1v1h-1zM280 215h1v1h-1zM63 216h1v1h-1zM205 216h1v1h-1zM216 216h1v1h-1zM217 216h1v1h-1zM227 216h1v1h-1zM236 216h1v1h-1zM257 216h1v1h-1zM258 216h1v1h-1zM264 216h1v1h-1zM265 216h1v1h-1zM285 216h1v1h-1zM154 217h1v1h-1zM209 217h1v1h-1zM211 217h1v1h-1zM219 217h1v1h-1zM226 217h1v1h-1zM230 217h1v1h-1zM233 217h1v1h-1zM236 217h1v1h-1zM245 217h1v1h-1zM253 217h1v1h-1zM256 217h1v1h-1zM262 217h1v1h-1zM277 217h1v1h-1zM283 217h1v1h-1zM154 218h1v1h-1zM162 218h1v1h-1zM202 218h1v1h-1zM205 218h1v1h-1zM216 218h1v1h-1zM218 218h1v1h-1zM230 218h1v1h-1zM237 218h1v1h-1zM247 218h1v1h-1zM255 218h1v1h-1zM257 218h1v1h-1zM265 218h1v1h-1zM267 218h1v1h-1zM275 218h1v1h-1zM278 218h1v1h-1zM285 218h1v1h-1zM286 218h1v1h-1zM287 218h1v1h-1zM154 219h1v1h-1zM201 219h1v1h-1zM231 219h1v1h-1zM235 219h1v1h-1zM237 219h1v1h-1zM247 219h1v1h-1zM248 219h1v1h-1zM249 219h1v1h-1zM259 219h1v1h-1zM283 219h1v1h-1zM287 219h1v1h-1zM223 220h1v1h-1zM254 220h1v1h-1zM287 220h1v1h-1zM145 221h1v1h-1zM194 221h1v1h-1zM233 221h1v1h-1zM235 221h1v1h-1zM242 221h1v1h-1zM245 221h1v1h-1zM256 221h1v1h-1zM259 221h1v1h-1zM261 221h1v1h-1zM278 221h1v1h-1zM99 222h1v1h-1zM155 222h1v1h-1zM156 222h1v1h-1zM159 222h1v1h-1zM204 222h1v1h-1zM220 222h1v1h-1zM221 222h1v1h-1zM222 222h1v1h-1zM227 222h1v1h-1zM234 222h1v1h-1zM245 222h1v1h-1zM247 222h1v1h-1zM259 222h1v1h-1zM267 222h1v1h-1zM268 222h1v1h-1zM269 222h1v1h-1zM284 222h1v1h-1zM95 223h1v1h-1zM160 223h1v1h-1zM208 223h1v1h-1zM213 223h1v1h-1zM219 223h1v1h-1zM221 223h1v1h-1zM223 223h1v1h-1zM232 223h1v1h-1zM235 223h1v1h-1zM258 223h1v1h-1zM269 223h1v1h-1zM272 223h1v1h-1zM283 223h1v1h-1zM134 224h1v1h-1zM148 224h1v1h-1zM149 224h1v1h-1zM186 224h1v1h-1zM201 224h1v1h-1zM220 224h1v1h-1zM252 224h1v1h-1zM261 224h1v1h-1zM271 224h1v1h-1zM198 225h1v1h-1zM209 225h1v1h-1zM218 225h1v1h-1zM219 225h1v1h-1zM228 225h1v1h-1zM230 225h1v1h-1zM235 225h1v1h-1zM238 225h1v1h-1zM259 225h1v1h-1zM261 225h1v1h-1zM269 225h1v1h-1zM111 226h1v1h-1zM153 226h1v1h-1zM155 226h1v1h-1zM163 226h1v1h-1zM200 226h1v1h-1zM209 226h1v1h-1zM216 226h1v1h-1zM217 226h1v1h-1zM236 226h1v1h-1zM238 226h1v1h-1zM249 226h1v1h-1zM256 226h1v1h-1zM260 226h1v1h-1zM265 226h1v1h-1zM286 226h1v1h-1zM287 226h1v1h-1zM93 227h1v1h-1zM155 227h1v1h-1zM200 227h1v1h-1zM204 227h1v1h-1zM217 227h1v1h-1zM247 227h1v1h-1zM282 227h1v1h-1zM287 227h1v1h-1zM158 228h1v1h-1zM162 228h1v1h-1zM188 228h1v1h-1zM205 228h1v1h-1zM211 228h1v1h-1zM218 228h1v1h-1zM219 228h1v1h-1zM226 228h1v1h-1zM230 228h1v1h-1zM282 228h1v1h-1zM157 229h1v1h-1zM162 229h1v1h-1zM177 229h1v1h-1zM193 229h1v1h-1zM197 229h1v1h-1zM254 229h1v1h-1zM256 229h1v1h-1zM257 229h1v1h-1zM275 229h1v1h-1zM279 229h1v1h-1zM282 229h1v1h-1zM52 230h1v1h-1zM88 230h1v1h-1zM155 230h1v1h-1zM158 230h1v1h-1zM161 230h1v1h-1zM214 230h1v1h-1zM226 230h1v1h-1zM232 230h1v1h-1zM238 230h1v1h-1zM279 230h1v1h-1zM283 230h1v1h-1zM123 231h1v1h-1zM128 231h1v1h-1zM150 231h1v1h-1zM227 231h1v1h-1zM231 231h1v1h-1zM238 231h1v1h-1zM259 231h1v1h-1zM267 231h1v1h-1zM275 231h1v1h-1zM44 232h1v1h-1zM159 232h1v1h-1zM206 232h1v1h-1zM213 232h1v1h-1zM217 232h1v1h-1zM220 232h1v1h-1zM221 232h1v1h-1zM231 232h1v1h-1zM262 232h1v1h-1zM271 232h1v1h-1zM59 233h1v1h-1zM105 233h1v1h-1zM161 233h1v1h-1zM210 233h1v1h-1zM218 233h1v1h-1zM247 233h1v1h-1zM252 233h1v1h-1zM274 233h1v1h-1zM95 234h1v1h-1zM155 234h1v1h-1zM275 234h1v1h-1zM95 235h1v1h-1zM155 235h1v1h-1zM164 235h1v1h-1zM210 235h1v1h-1zM232 235h1v1h-1zM241 235h1v1h-1zM246 235h1v1h-1zM276 235h1v1h-1zM207 236h1v1h-1zM222 236h1v1h-1zM224 236h1v1h-1zM232 236h1v1h-1zM235 236h1v1h-1zM256 236h1v1h-1zM275 236h1v1h-1zM212 237h1v1h-1zM234 237h1v1h-1zM284 237h1v1h-1zM163 238h1v1h-1zM252 238h1v1h-1z"/>
<path fill="rgb(0,0,175)" d="M279 214h1v1h-1zM272 215h1v1h-1zM247 217h1v1h-1zM251 217h1v1h-1zM265 217h1v1h-1zM281 217h1v1h-1zM261 218h1v1h-1zM272 218h1v1h-1zM279 218h1v1h-1zM250 219h1v1h-1zM275 219h1v1h-1zM278 219h1v1h-1zM218 220h1v1h-1zM276 220h1v1h-1zM286 220h1v1h-1zM269 221h1v1h-1zM276 221h1v1h-1zM277 221h1v1h-1zM281 221h1v1h-1zM214 222h1v1h-1zM218 222h1v1h-1zM244 222h1v1h-1zM278 222h1v1h-1zM285 222h1v1h-1zM282 223h1v1h-1zM265 224h1v1h-1zM274 224h1v1h-1zM279 224h1v1h-1zM281 225h1v1h-1zM234 226h1v1h-1zM279 227h1v1h-1z"/>
</g>
<g filter="url(#nb)">
<path fill="#0000aa" d="M135 183h1v1h-1zM138 183h1v1h-1zM144 183h1v1h-1zM146 183h1v1h-1zM148 183h1v1h-1zM154 183h1v1h-1zM175 183h1v1h-1zM181 183h1v1h-1zM183 183h1v1h-1zM184 183h1v1h-1zM130 184h1v1h-1zM132 184h1v1h-1zM133 184h1v1h-1zM135 184h1v1h-1zM136 184h1v1h-1zM141 184h1v1h-1zM142 184h1v1h-1zM144 184h1v1h-1zM146 184h1v1h-1zM147 184h1v1h-1zM148 184h1v1h-1zM152 184h1v1h-1zM153 184h1v1h-1zM154 184h1v1h-1zM158 184h1v1h-1zM160 184h1v1h-1zM163 184h1v1h-1zM166 184h1v1h-1zM167 184h1v1h-1zM168 184h1v1h-1zM169 184h1v1h-1zM170 184h1v1h-1zM172 184h1v1h-1zM174 184h1v1h-1zM175 184h1v1h-1zM178 184h1v1h-1zM180 184h1v1h-1zM181 184h1v1h-1zM133 185h1v1h-1zM134 185h1v1h-1zM138 185h1v1h-1zM140 185h1v1h-1zM141 185h1v1h-1zM142 185h1v1h-1zM143 185h1v1h-1zM144 185h1v1h-1zM145 185h1v1h-1zM147 185h1v1h-1zM148 185h1v1h-1zM149 185h1v1h-1zM150 185h1v1h-1zM151 185h1v1h-1zM154 185h1v1h-1zM157 185h1v1h-1zM159 185h1v1h-1zM160 185h1v1h-1zM163 185h1v1h-1zM164 185h1v1h-1zM171 185h1v1h-1zM172 185h1v1h-1zM173 185h1v1h-1zM174 185h1v1h-1zM175 185h1v1h-1zM176 185h1v1h-1zM177 185h1v1h-1zM178 185h1v1h-1zM180 185h1v1h-1zM182 185h1v1h-1zM183 185h1v1h-1zM184 185h1v1h-1zM185 185h1v1h-1zM186 185h1v1h-1zM130 186h1v1h-1zM131 186h1v1h-1zM134 186h1v1h-1zM135 186h1v1h-1zM136 186h1v1h-1zM137 186h1v1h-1zM139 186h1v1h-1zM141 186h1v1h-1zM142 186h1v1h-1zM145 186h1v1h-1zM149 186h1v1h-1zM153 186h1v1h-1zM157 186h1v1h-1zM160 186h1v1h-1zM161 186h1v1h-1zM164 186h1v1h-1zM166 186h1v1h-1zM168 186h1v1h-1zM174 186h1v1h-1zM175 186h1v1h-1zM178 186h1v1h-1zM180 186h1v1h-1zM181 186h1v1h-1zM182 186h1v1h-1zM183 186h1v1h-1zM184 186h1v1h-1zM185 186h1v1h-1zM130 187h1v1h-1zM132 187h1v1h-1zM135 187h1v1h-1zM163 187h1v1h-1zM182 187h1v1h-1zM184 187h1v1h-1zM185 187h1v1h-1zM187 187h1v1h-1zM129 188h1v1h-1zM131 188h1v1h-1zM186 188h1v1h-1zM128 189h1v1h-1zM131 189h1v1h-1zM132 189h1v1h-1zM187 189h1v1h-1zM131 190h1v1h-1zM184 190h1v1h-1zM185 190h1v1h-1zM186 190h1v1h-1zM187 190h1v1h-1zM130 191h1v1h-1zM131 191h1v1h-1zM132 191h1v1h-1zM184 191h1v1h-1zM186 191h1v1h-1zM130 192h1v1h-1zM131 192h1v1h-1zM184 192h1v1h-1zM186 192h1v1h-1zM187 192h1v1h-1zM130 193h1v1h-1zM129 194h1v1h-1zM186 194h1v1h-1zM130 195h1v1h-1zM131 195h1v1h-1zM185 195h1v1h-1zM130 196h1v1h-1zM185 196h1v1h-1zM184 197h1v1h-1zM127 198h1v1h-1zM185 198h1v1h-1zM186 198h1v1h-1zM128 199h1v1h-1zM131 199h1v1h-1zM184 199h1v1h-1zM185 199h1v1h-1zM186 199h1v1h-1zM129 200h1v1h-1zM184 200h1v1h-1zM185 200h1v1h-1zM186 200h1v1h-1zM131 201h1v1h-1zM184 201h1v1h-1zM185 201h1v1h-1zM131 202h1v1h-1zM182 202h1v1h-1zM183 202h1v1h-1zM184 202h1v1h-1zM134 205h1v1h-1zM180 205h1v1h-1zM179 206h1v1h-1zM136 207h1v1h-1zM176 207h1v1h-1zM177 207h1v1h-1zM137 208h1v1h-1zM138 208h1v1h-1zM139 208h1v1h-1zM174 208h1v1h-1zM139 210h1v1h-1zM143 210h1v1h-1zM172 210h1v1h-1zM140 211h1v1h-1zM142 211h1v1h-1zM145 211h1v1h-1zM167 211h1v1h-1zM168 211h1v1h-1zM169 211h1v1h-1zM172 211h1v1h-1zM145 212h1v1h-1zM148 212h1v1h-1zM150 212h1v1h-1zM151 212h1v1h-1zM170 212h1v1h-1zM171 212h1v1h-1zM142 213h1v1h-1zM147 213h1v1h-1zM151 213h1v1h-1zM154 213h1v1h-1zM157 213h1v1h-1zM159 213h1v1h-1zM168 213h1v1h-1zM169 213h1v1h-1zM144 214h1v1h-1zM146 214h1v1h-1zM153 214h1v1h-1zM157 214h1v1h-1zM158 214h1v1h-1zM159 214h1v1h-1zM160 214h1v1h-1zM162 214h1v1h-1zM165 214h1v1h-1zM167 214h1v1h-1zM143 215h1v1h-1zM144 215h1v1h-1zM149 215h1v1h-1zM151 215h1v1h-1zM152 215h1v1h-1zM153 215h1v1h-1zM157 215h1v1h-1zM160 215h1v1h-1zM167 215h1v1h-1zM145 216h1v1h-1zM149 216h1v1h-1zM150 216h1v1h-1zM151 216h1v1h-1zM153 216h1v1h-1zM154 216h1v1h-1zM155 216h1v1h-1zM163 216h1v1h-1zM164 216h1v1h-1zM166 216h1v1h-1zM147 217h1v1h-1zM154 217h1v1h-1zM158 217h1v1h-1zM167 217h1v1h-1zM150 218h1v1h-1zM154 218h1v1h-1zM157 218h1v1h-1zM158 218h1v1h-1zM160 218h1v1h-1zM161 218h1v1h-1zM164 218h1v1h-1zM146 219h1v1h-1zM156 219h1v1h-1zM163 219h1v1h-1zM147 220h1v1h-1zM152 220h1v1h-1zM162 220h1v1h-1zM152 221h1v1h-1zM154 221h1v1h-1zM157 221h1v1h-1zM164 221h1v1h-1zM166 221h1v1h-1zM167 221h1v1h-1zM149 222h1v1h-1zM157 222h1v1h-1zM162 222h1v1h-1zM164 222h1v1h-1z"/>
<path fill="#0000ff" d="M153 185h1v1h-1zM155 185h1v1h-1zM166 185h1v1h-1zM169 185h1v1h-1zM132 186h1v1h-1zM133 186h1v1h-1zM138 186h1v1h-1zM140 186h1v1h-1zM143 186h1v1h-1zM144 186h1v1h-1zM146 186h1v1h-1zM147 186h1v1h-1zM150 186h1v1h-1zM151 186h1v1h-1zM154 186h1v1h-1zM155 186h1v1h-1zM156 186h1v1h-1zM158 186h1v1h-1zM159 186h1v1h-1zM162 186h1v1h-1zM163 186h1v1h-1zM165 186h1v1h-1zM167 186h1v1h-1zM170 186h1v1h-1zM171 186h1v1h-1zM172 186h1v1h-1zM173 186h1v1h-1zM176 186h1v1h-1zM177 186h1v1h-1zM179 186h1v1h-1zM131 187h1v1h-1zM133 187h1v1h-1zM137 187h1v1h-1zM141 187h1v1h-1zM143 187h1v1h-1zM145 187h1v1h-1zM146 187h1v1h-1zM148 187h1v1h-1zM149 187h1v1h-1zM150 187h1v1h-1zM151 187h1v1h-1zM152 187h1v1h-1zM155 187h1v1h-1zM156 187h1v1h-1zM157 187h1v1h-1zM164 187h1v1h-1zM165 187h1v1h-1zM169 187h1v1h-1zM173 187h1v1h-1zM175 187h1v1h-1zM177 187h1v1h-1zM178 187h1v1h-1zM179 187h1v1h-1zM181 187h1v1h-1zM183 187h1v1h-1zM134 188h1v1h-1zM137 188h1v1h-1zM139 188h1v1h-1zM140 188h1v1h-1zM141 188h1v1h-1zM161 188h1v1h-1zM181 188h1v1h-1zM182 188h1v1h-1zM184 188h1v1h-1zM185 188h1v1h-1zM133 189h1v1h-1zM184 189h1v1h-1zM183 190h1v1h-1zM185 191h1v1h-1zM182 192h1v1h-1zM183 192h1v1h-1zM131 193h1v1h-1zM132 193h1v1h-1zM184 193h1v1h-1zM185 193h1v1h-1zM131 194h1v1h-1zM183 194h1v1h-1zM184 194h1v1h-1zM132 195h1v1h-1zM184 195h1v1h-1zM131 196h1v1h-1zM132 196h1v1h-1zM184 196h1v1h-1zM131 197h1v1h-1zM132 197h1v1h-1zM129 198h1v1h-1zM132 198h1v1h-1zM184 198h1v1h-1zM129 199h1v1h-1zM133 199h1v1h-1zM133 200h1v1h-1zM183 200h1v1h-1zM132 201h1v1h-1zM133 201h1v1h-1zM183 201h1v1h-1zM181 202h1v1h-1zM133 203h1v1h-1zM134 203h1v1h-1zM182 203h1v1h-1zM133 204h1v1h-1zM135 204h1v1h-1zM180 204h1v1h-1zM135 205h1v1h-1zM179 205h1v1h-1zM136 206h1v1h-1zM137 206h1v1h-1zM138 206h1v1h-1zM177 206h1v1h-1zM175 207h1v1h-1zM141 208h1v1h-1zM173 208h1v1h-1zM175 208h1v1h-1zM138 209h1v1h-1zM139 209h1v1h-1zM140 209h1v1h-1zM172 209h1v1h-1zM173 209h1v1h-1zM174 209h1v1h-1zM140 210h1v1h-1zM141 210h1v1h-1zM144 210h1v1h-1zM169 210h1v1h-1zM141 211h1v1h-1zM144 211h1v1h-1zM143 212h1v1h-1zM147 212h1v1h-1zM167 212h1v1h-1zM156 213h1v1h-1zM162 213h1v1h-1zM164 213h1v1h-1zM165 213h1v1h-1zM166 213h1v1h-1zM143 214h1v1h-1zM145 214h1v1h-1zM152 214h1v1h-1zM154 214h1v1h-1zM156 214h1v1h-1zM161 214h1v1h-1zM168 214h1v1h-1zM147 215h1v1h-1zM150 215h1v1h-1zM148 216h1v1h-1zM152 216h1v1h-1zM162 216h1v1h-1zM150 217h1v1h-1zM151 217h1v1h-1zM156 217h1v1h-1zM157 217h1v1h-1zM159 217h1v1h-1zM147 218h1v1h-1zM152 218h1v1h-1zM155 218h1v1h-1zM159 218h1v1h-1zM163 218h1v1h-1zM165 218h1v1h-1zM149 219h1v1h-1zM154 219h1v1h-1zM155 219h1v1h-1zM158 219h1v1h-1zM160 219h1v1h-1zM148 220h1v1h-1zM151 220h1v1h-1zM153 220h1v1h-1zM157 220h1v1h-1zM161 220h1v1h-1zM164 220h1v1h-1zM147 221h1v1h-1zM159 221h1v1h-1zM163 221h1v1h-1zM165 221h1v1h-1zM148 222h1v1h-1zM151 222h1v1h-1zM160 222h1v1h-1zM163 222h1v1h-1z"/>
<path fill="#0055ff" d="M148 186h1v1h-1zM152 186h1v1h-1zM169 186h1v1h-1zM134 187h1v1h-1zM136 187h1v1h-1zM138 187h1v1h-1zM139 187h1v1h-1zM140 187h1v1h-1zM142 187h1v1h-1zM144 187h1v1h-1zM147 187h1v1h-1zM153 187h1v1h-1zM159 187h1v1h-1zM160 187h1v1h-1zM161 187h1v1h-1zM162 187h1v1h-1zM166 187h1v1h-1zM167 187h1v1h-1zM168 187h1v1h-1zM170 187h1v1h-1zM171 187h1v1h-1zM172 187h1v1h-1zM174 187h1v1h-1zM176 187h1v1h-1zM180 187h1v1h-1zM132 188h1v1h-1zM133 188h1v1h-1zM135 188h1v1h-1zM136 188h1v1h-1zM138 188h1v1h-1zM142 188h1v1h-1zM143 188h1v1h-1zM144 188h1v1h-1zM147 188h1v1h-1zM149 188h1v1h-1zM152 188h1v1h-1zM154 188h1v1h-1zM156 188h1v1h-1zM157 188h1v1h-1zM159 188h1v1h-1zM160 188h1v1h-1zM163 188h1v1h-1zM164 188h1v1h-1zM166 188h1v1h-1zM167 188h1v1h-1zM169 188h1v1h-1zM170 188h1v1h-1zM173 188h1v1h-1zM174 188h1v1h-1zM177 188h1v1h-1zM180 188h1v1h-1zM183 188h1v1h-1zM137 189h1v1h-1zM145 189h1v1h-1zM149 189h1v1h-1zM152 189h1v1h-1zM177 189h1v1h-1zM178 189h1v1h-1zM181 189h1v1h-1zM182 189h1v1h-1zM183 189h1v1h-1zM132 190h1v1h-1zM133 190h1v1h-1zM182 190h1v1h-1zM133 191h1v1h-1zM181 191h1v1h-1zM183 191h1v1h-1zM132 192h1v1h-1zM133 193h1v1h-1zM182 193h1v1h-1zM183 193h1v1h-1zM132 194h1v1h-1zM133 194h1v1h-1zM133 195h1v1h-1zM183 195h1v1h-1zM183 197h1v1h-1zM133 198h1v1h-1zM132 199h1v1h-1zM134 199h1v1h-1zM130 200h1v1h-1zM132 200h1v1h-1zM182 201h1v1h-1zM132 202h1v1h-1zM133 202h1v1h-1zM135 203h1v1h-1zM180 203h1v1h-1zM181 203h1v1h-1zM134 204h1v1h-1zM136 205h1v1h-1zM137 205h1v1h-1zM176 206h1v1h-1zM137 207h1v1h-1zM138 207h1v1h-1zM140 208h1v1h-1zM141 209h1v1h-1zM143 209h1v1h-1zM144 209h1v1h-1zM171 209h1v1h-1zM142 210h1v1h-1zM145 210h1v1h-1zM170 210h1v1h-1zM171 210h1v1h-1zM146 211h1v1h-1zM148 211h1v1h-1zM149 211h1v1h-1zM166 211h1v1h-1zM142 212h1v1h-1zM146 212h1v1h-1zM156 212h1v1h-1zM161 212h1v1h-1zM162 212h1v1h-1zM163 212h1v1h-1zM164 212h1v1h-1zM165 212h1v1h-1zM143 213h1v1h-1zM144 213h1v1h-1zM145 213h1v1h-1zM146 213h1v1h-1zM149 213h1v1h-1zM150 213h1v1h-1zM153 213h1v1h-1zM160 213h1v1h-1zM161 213h1v1h-1zM163 213h1v1h-1zM147 214h1v1h-1zM149 214h1v1h-1zM151 214h1v1h-1zM155 214h1v1h-1zM163 214h1v1h-1zM164 214h1v1h-1zM166 214h1v1h-1zM146 215h1v1h-1zM154 215h1v1h-1zM155 215h1v1h-1zM156 215h1v1h-1zM165 215h1v1h-1zM166 215h1v1h-1zM156 216h1v1h-1zM160 216h1v1h-1zM148 217h1v1h-1zM149 217h1v1h-1zM160 217h1v1h-1zM162 217h1v1h-1zM166 217h1v1h-1zM148 218h1v1h-1zM151 218h1v1h-1zM153 218h1v1h-1zM156 218h1v1h-1zM162 218h1v1h-1zM150 219h1v1h-1zM151 219h1v1h-1zM152 219h1v1h-1zM153 219h1v1h-1zM159 219h1v1h-1zM164 219h1v1h-1zM155 220h1v1h-1zM160 220h1v1h-1zM165 220h1v1h-1zM166 220h1v1h-1zM156 221h1v1h-1zM162 221h1v1h-1zM147 222h1v1h-1zM150 222h1v1h-1zM152 222h1v1h-1zM153 222h1v1h-1zM159 222h1v1h-1zM161 222h1v1h-1zM166 222h1v1h-1z"/>
<path fill="#00aaff" d="M154 187h1v1h-1zM158 187h1v1h-1zM145 188h1v1h-1zM148 188h1v1h-1zM150 188h1v1h-1zM151 188h1v1h-1zM155 188h1v1h-1zM158 188h1v1h-1zM162 188h1v1h-1zM168 188h1v1h-1zM172 188h1v1h-1zM175 188h1v1h-1zM176 188h1v1h-1zM178 188h1v1h-1zM179 188h1v1h-1zM134 189h1v1h-1zM135 189h1v1h-1zM138 189h1v1h-1zM140 189h1v1h-1zM144 189h1v1h-1zM146 189h1v1h-1zM147 189h1v1h-1zM151 189h1v1h-1zM154 189h1v1h-1zM155 189h1v1h-1zM156 189h1v1h-1zM157 189h1v1h-1zM158 189h1v1h-1zM159 189h1v1h-1zM161 189h1v1h-1zM162 189h1v1h-1zM164 189h1v1h-1zM166 189h1v1h-1zM167 189h1v1h-1zM169 189h1v1h-1zM170 189h1v1h-1zM171 189h1v1h-1zM172 189h1v1h-1zM174 189h1v1h-1zM176 189h1v1h-1zM180 189h1v1h-1zM134 190h1v1h-1zM135 190h1v1h-1zM139 190h1v1h-1zM141 190h1v1h-1zM143 190h1v1h-1zM152 190h1v1h-1zM153 190h1v1h-1zM155 190h1v1h-1zM157 190h1v1h-1zM160 190h1v1h-1zM163 190h1v1h-1zM166 190h1v1h-1zM172 190h1v1h-1zM177 190h1v1h-1zM178 190h1v1h-1zM180 190h1v1h-1zM134 191h1v1h-1zM135 191h1v1h-1zM137 191h1v1h-1zM138 191h1v1h-1zM149 191h1v1h-1zM173 191h1v1h-1zM174 191h1v1h-1zM182 191h1v1h-1zM133 192h1v1h-1zM134 192h1v1h-1zM136 192h1v1h-1zM180 192h1v1h-1zM180 193h1v1h-1zM134 194h1v1h-1zM182 194h1v1h-1zM134 195h1v1h-1zM181 195h1v1h-1zM182 195h1v1h-1zM133 196h1v1h-1zM134 196h1v1h-1zM181 196h1v1h-1zM182 196h1v1h-1zM183 196h1v1h-1zM133 197h1v1h-1zM134 197h1v1h-1zM181 197h1v1h-1zM182 197h1v1h-1zM131 198h1v1h-1zM181 198h1v1h-1zM130 199h1v1h-1zM181 199h1v1h-1zM182 199h1v1h-1zM183 199h1v1h-1zM131 200h1v1h-1zM134 200h1v1h-1zM181 200h1v1h-1zM181 201h1v1h-1zM180 202h1v1h-1zM179 203h1v1h-1zM137 204h1v1h-1zM179 204h1v1h-1zM138 205h1v1h-1zM177 205h1v1h-1zM178 205h1v1h-1zM139 206h1v1h-1zM175 206h1v1h-1zM139 207h1v1h-1zM140 207h1v1h-1zM174 207h1v1h-1zM142 208h1v1h-1zM143 208h1v1h-1zM171 208h1v1h-1zM172 208h1v1h-1zM142 209h1v1h-1zM146 209h1v1h-1zM164 209h1v1h-1zM165 209h1v1h-1zM168 209h1v1h-1zM170 209h1v1h-1zM146 210h1v1h-1zM147 210h1v1h-1zM149 210h1v1h-1zM151 210h1v1h-1zM152 210h1v1h-1zM165 210h1v1h-1zM166 210h1v1h-1zM167 210h1v1h-1zM168 210h1v1h-1zM143 211h1v1h-1zM147 211h1v1h-1zM150 211h1v1h-1zM151 211h1v1h-1zM152 211h1v1h-1zM153 211h1v1h-1zM154 211h1v1h-1zM161 211h1v1h-1zM162 211h1v1h-1zM163 211h1v1h-1zM165 211h1v1h-1zM149 212h1v1h-1zM152 212h1v1h-1zM153 212h1v1h-1zM154 212h1v1h-1zM155 212h1v1h-1zM158 212h1v1h-1zM159 212h1v1h-1zM160 212h1v1h-1zM166 212h1v1h-1zM148 213h1v1h-1zM155 213h1v1h-1zM158 213h1v1h-1zM150 214h1v1h-1zM161 215h1v1h-1zM162 215h1v1h-1zM163 215h1v1h-1zM155 217h1v1h-1zM164 217h1v1h-1zM148 219h1v1h-1zM149 220h1v1h-1zM153 221h1v1h-1zM156 222h1v1h-1z"/>
<path fill="#00ffff" d="M146 188h1v1h-1zM153 188h1v1h-1zM165 188h1v1h-1zM171 188h1v1h-1zM136 189h1v1h-1zM139 189h1v1h-1zM141 189h1v1h-1zM142 189h1v1h-1zM143 189h1v1h-1zM148 189h1v1h-1zM150 189h1v1h-1zM160 189h1v1h-1zM163 189h1v1h-1zM165 189h1v1h-1zM168 189h1v1h-1zM175 189h1v1h-1zM179 189h1v1h-1zM137 190h1v1h-1zM138 190h1v1h-1zM140 190h1v1h-1zM142 190h1v1h-1zM144 190h1v1h-1zM145 190h1v1h-1zM146 190h1v1h-1zM147 190h1v1h-1zM148 190h1v1h-1zM149 190h1v1h-1zM151 190h1v1h-1zM154 190h1v1h-1zM156 190h1v1h-1zM159 190h1v1h-1zM161 190h1v1h-1zM162 190h1v1h-1zM164 190h1v1h-1zM165 190h1v1h-1zM167 190h1v1h-1zM168 190h1v1h-1zM169 190h1v1h-1zM171 190h1v1h-1zM173 190h1v1h-1zM174 190h1v1h-1zM175 190h1v1h-1zM176 190h1v1h-1zM179 190h1v1h-1zM181 190h1v1h-1zM136 191h1v1h-1zM139 191h1v1h-1zM144 191h1v1h-1zM146 191h1v1h-1zM148 191h1v1h-1zM151 191h1v1h-1zM153 191h1v1h-1zM159 191h1v1h-1zM162 191h1v1h-1zM163 191h1v1h-1zM165 191h1v1h-1zM168 191h1v1h-1zM170 191h1v1h-1zM171 191h1v1h-1zM177 191h1v1h-1zM178 191h1v1h-1zM179 191h1v1h-1zM180 191h1v1h-1zM135 192h1v1h-1zM137 192h1v1h-1zM140 192h1v1h-1zM142 192h1v1h-1zM148 192h1v1h-1zM150 192h1v1h-1zM151 192h1v1h-1zM152 192h1v1h-1zM154 192h1v1h-1zM156 192h1v1h-1zM162 192h1v1h-1zM163 192h1v1h-1zM166 192h1v1h-1zM167 192h1v1h-1zM168 192h1v1h-1zM169 192h1v1h-1zM170 192h1v1h-1zM171 192h1v1h-1zM172 192h1v1h-1zM174 192h1v1h-1zM175 192h1v1h-1zM176 192h1v1h-1zM177 192h1v1h-1zM179 192h1v1h-1zM181 192h1v1h-1zM134 193h1v1h-1zM135 193h1v1h-1zM138 193h1v1h-1zM144 193h1v1h-1zM149 193h1v1h-1zM157 193h1v1h-1zM173 193h1v1h-1zM176 193h1v1h-1zM179 193h1v1h-1zM181 193h1v1h-1zM144 194h1v1h-1zM179 194h1v1h-1zM181 194h1v1h-1zM135 195h1v1h-1zM136 195h1v1h-1zM180 195h1v1h-1zM178 196h1v1h-1zM180 196h1v1h-1zM130 198h1v1h-1zM135 198h1v1h-1zM182 198h1v1h-1zM183 198h1v1h-1zM135 200h1v1h-1zM182 200h1v1h-1zM134 201h1v1h-1zM135 201h1v1h-1zM180 201h1v1h-1zM134 202h1v1h-1zM135 202h1v1h-1zM179 202h1v1h-1zM136 203h1v1h-1zM178 203h1v1h-1zM136 204h1v1h-1zM178 204h1v1h-1zM139 205h1v1h-1zM176 205h1v1h-1zM140 206h1v1h-1zM141 206h1v1h-1zM143 206h1v1h-1zM173 206h1v1h-1zM141 207h1v1h-1zM144 207h1v1h-1zM145 207h1v1h-1zM150 207h1v1h-1zM170 207h1v1h-1zM171 207h1v1h-1zM172 207h1v1h-1zM173 207h1v1h-1zM144 208h1v1h-1zM150 208h1v1h-1zM154 208h1v1h-1zM155 208h1v1h-1zM156 208h1v1h-1zM158 208h1v1h-1zM161 208h1v1h-1zM162 208h1v1h-1zM166 208h1v1h-1zM168 208h1v1h-1zM170 208h1v1h-1zM145 209h1v1h-1zM147 209h1v1h-1zM148 209h1v1h-1zM154 209h1v1h-1zM159 209h1v1h-1zM160 209h1v1h-1zM163 209h1v1h-1zM169 209h1v1h-1zM148 210h1v1h-1zM150 210h1v1h-1zM153 210h1v1h-1zM154 210h1v1h-1zM155 210h1v1h-1zM156 210h1v1h-1zM160 210h1v1h-1zM161 210h1v1h-1zM162 210h1v1h-1zM163 210h1v1h-1zM164 210h1v1h-1zM155 211h1v1h-1zM156 211h1v1h-1zM157 211h1v1h-1zM159 211h1v1h-1zM160 211h1v1h-1zM164 211h1v1h-1zM157 212h1v1h-1z"/>
<path fill="#55ffaa" d="M153 189h1v1h-1zM173 189h1v1h-1zM136 190h1v1h-1zM150 190h1v1h-1zM170 190h1v1h-1zM140 191h1v1h-1zM141 191h1v1h-1zM142 191h1v1h-1zM143 191h1v1h-1zM145 191h1v1h-1zM147 191h1v1h-1zM150 191h1v1h-1zM152 191h1v1h-1zM154 191h1v1h-1zM155 191h1v1h-1zM156 191h1v1h-1zM157 191h1v1h-1zM158 191h1v1h-1zM160 191h1v1h-1zM164 191h1v1h-1zM166 191h1v1h-1zM167 191h1v1h-1zM169 191h1v1h-1zM172 191h1v1h-1zM175 191h1v1h-1zM176 191h1v1h-1zM138 192h1v1h-1zM139 192h1v1h-1zM141 192h1v1h-1zM144 192h1v1h-1zM145 192h1v1h-1zM146 192h1v1h-1zM147 192h1v1h-1zM149 192h1v1h-1zM153 192h1v1h-1zM155 192h1v1h-1zM157 192h1v1h-1zM158 192h1v1h-1zM160 192h1v1h-1zM161 192h1v1h-1zM164 192h1v1h-1zM173 192h1v1h-1zM178 192h1v1h-1zM136 193h1v1h-1zM137 193h1v1h-1zM139 193h1v1h-1zM142 193h1v1h-1zM143 193h1v1h-1zM145 193h1v1h-1zM146 193h1v1h-1zM147 193h1v1h-1zM148 193h1v1h-1zM152 193h1v1h-1zM153 193h1v1h-1zM154 193h1v1h-1zM155 193h1v1h-1zM156 193h1v1h-1zM158 193h1v1h-1zM159 193h1v1h-1zM161 193h1v1h-1zM166 193h1v1h-1zM167 193h1v1h-1zM168 193h1v1h-1zM169 193h1v1h-1zM170 193h1v1h-1zM171 193h1v1h-1zM172 193h1v1h-1zM175 193h1v1h-1zM177 193h1v1h-1zM178 193h1v1h-1zM135 194h1v1h-1zM136 194h1v1h-1zM137 194h1v1h-1zM140 194h1v1h-1zM143 194h1v1h-1zM146 194h1v1h-1zM150 194h1v1h-1zM154 194h1v1h-1zM158 194h1v1h-1zM159 194h1v1h-1zM160 194h1v1h-1zM162 194h1v1h-1zM167 194h1v1h-1zM170 194h1v1h-1zM172 194h1v1h-1zM174 194h1v1h-1zM175 194h1v1h-1zM176 194h1v1h-1zM177 194h1v1h-1zM178 194h1v1h-1zM180 194h1v1h-1zM153 195h1v1h-1zM168 195h1v1h-1zM169 195h1v1h-1zM170 195h1v1h-1zM171 195h1v1h-1zM173 195h1v1h-1zM174 195h1v1h-1zM175 195h1v1h-1zM176 195h1v1h-1zM178 195h1v1h-1zM179 195h1v1h-1zM135 196h1v1h-1zM170 196h1v1h-1zM174 196h1v1h-1zM175 196h1v1h-1zM179 196h1v1h-1zM135 197h1v1h-1zM136 197h1v1h-1zM137 197h1v1h-1zM173 197h1v1h-1zM177 197h1v1h-1zM179 197h1v1h-1zM180 197h1v1h-1zM134 198h1v1h-1zM136 198h1v1h-1zM178 198h1v1h-1zM179 198h1v1h-1zM136 199h1v1h-1zM137 199h1v1h-1zM177 199h1v1h-1zM179 199h1v1h-1zM180 199h1v1h-1zM136 200h1v1h-1zM171 200h1v1h-1zM179 200h1v1h-1zM180 200h1v1h-1zM136 201h1v1h-1zM176 201h1v1h-1zM178 201h1v1h-1zM136 202h1v1h-1zM137 202h1v1h-1zM168 202h1v1h-1zM176 202h1v1h-1zM177 202h1v1h-1zM178 202h1v1h-1zM137 203h1v1h-1zM138 203h1v1h-1zM170 203h1v1h-1zM174 203h1v1h-1zM176 203h1v1h-1zM177 203h1v1h-1zM138 204h1v1h-1zM139 204h1v1h-1zM140 204h1v1h-1zM169 204h1v1h-1zM174 204h1v1h-1zM175 204h1v1h-1zM177 204h1v1h-1zM143 205h1v1h-1zM158 205h1v1h-1zM164 205h1v1h-1zM165 205h1v1h-1zM166 205h1v1h-1zM168 205h1v1h-1zM172 205h1v1h-1zM173 205h1v1h-1zM174 205h1v1h-1zM175 205h1v1h-1zM142 206h1v1h-1zM153 206h1v1h-1zM154 206h1v1h-1zM155 206h1v1h-1zM156 206h1v1h-1zM159 206h1v1h-1zM161 206h1v1h-1zM162 206h1v1h-1zM168 206h1v1h-1zM169 206h1v1h-1zM170 206h1v1h-1zM172 206h1v1h-1zM174 206h1v1h-1zM142 207h1v1h-1zM143 207h1v1h-1zM146 207h1v1h-1zM147 207h1v1h-1zM149 207h1v1h-1zM152 207h1v1h-1zM153 207h1v1h-1zM154 207h1v1h-1zM158 207h1v1h-1zM161 207h1v1h-1zM163 207h1v1h-1zM165 207h1v1h-1zM166 207h1v1h-1zM167 207h1v1h-1zM168 207h1v1h-1zM146 208h1v1h-1zM147 208h1v1h-1zM148 208h1v1h-1zM152 208h1v1h-1zM153 208h1v1h-1zM157 208h1v1h-1zM160 208h1v1h-1zM163 208h1v1h-1zM164 208h1v1h-1zM167 208h1v1h-1zM169 208h1v1h-1zM149 209h1v1h-1zM150 209h1v1h-1zM151 209h1v1h-1zM152 209h1v1h-1zM153 209h1v1h-1zM155 209h1v1h-1zM156 209h1v1h-1zM157 209h1v1h-1zM161 209h1v1h-1zM162 209h1v1h-1zM167 209h1v1h-1zM157 210h1v1h-1zM158 210h1v1h-1zM159 210h1v1h-1zM158 211h1v1h-1z"/>
<path fill="#aaff55" d="M158 190h1v1h-1zM161 191h1v1h-1zM143 192h1v1h-1zM159 192h1v1h-1zM165 192h1v1h-1zM140 193h1v1h-1zM141 193h1v1h-1zM150 193h1v1h-1zM151 193h1v1h-1zM162 193h1v1h-1zM163 193h1v1h-1zM164 193h1v1h-1zM165 193h1v1h-1zM174 193h1v1h-1zM138 194h1v1h-1zM139 194h1v1h-1zM141 194h1v1h-1zM145 194h1v1h-1zM147 194h1v1h-1zM148 194h1v1h-1zM151 194h1v1h-1zM152 194h1v1h-1zM153 194h1v1h-1zM156 194h1v1h-1zM161 194h1v1h-1zM163 194h1v1h-1zM164 194h1v1h-1zM165 194h1v1h-1zM168 194h1v1h-1zM169 194h1v1h-1zM171 194h1v1h-1zM173 194h1v1h-1zM137 195h1v1h-1zM138 195h1v1h-1zM139 195h1v1h-1zM140 195h1v1h-1zM142 195h1v1h-1zM143 195h1v1h-1zM144 195h1v1h-1zM145 195h1v1h-1zM146 195h1v1h-1zM148 195h1v1h-1zM149 195h1v1h-1zM152 195h1v1h-1zM154 195h1v1h-1zM156 195h1v1h-1zM159 195h1v1h-1zM161 195h1v1h-1zM163 195h1v1h-1zM165 195h1v1h-1zM166 195h1v1h-1zM167 195h1v1h-1zM177 195h1v1h-1zM136 196h1v1h-1zM139 196h1v1h-1zM140 196h1v1h-1zM142 196h1v1h-1zM143 196h1v1h-1zM144 196h1v1h-1zM145 196h1v1h-1zM151 196h1v1h-1zM152 196h1v1h-1zM160 196h1v1h-1zM162 196h1v1h-1zM166 196h1v1h-1zM168 196h1v1h-1zM169 196h1v1h-1zM172 196h1v1h-1zM173 196h1v1h-1zM176 196h1v1h-1zM177 196h1v1h-1zM139 197h1v1h-1zM140 197h1v1h-1zM141 197h1v1h-1zM143 197h1v1h-1zM145 197h1v1h-1zM151 197h1v1h-1zM160 197h1v1h-1zM163 197h1v1h-1zM167 197h1v1h-1zM171 197h1v1h-1zM172 197h1v1h-1zM174 197h1v1h-1zM175 197h1v1h-1zM176 197h1v1h-1zM178 197h1v1h-1zM137 198h1v1h-1zM138 198h1v1h-1zM165 198h1v1h-1zM167 198h1v1h-1zM169 198h1v1h-1zM170 198h1v1h-1zM174 198h1v1h-1zM175 198h1v1h-1zM176 198h1v1h-1zM177 198h1v1h-1zM180 198h1v1h-1zM135 199h1v1h-1zM138 199h1v1h-1zM139 199h1v1h-1zM164 199h1v1h-1zM172 199h1v1h-1zM173 199h1v1h-1zM175 199h1v1h-1zM178 199h1v1h-1zM138 200h1v1h-1zM167 200h1v1h-1zM172 200h1v1h-1zM174 200h1v1h-1zM176 200h1v1h-1zM177 200h1v1h-1zM178 200h1v1h-1zM137 201h1v1h-1zM138 201h1v1h-1zM139 201h1v1h-1zM141 201h1v1h-1zM155 201h1v1h-1zM170 201h1v1h-1zM171 201h1v1h-1zM172 201h1v1h-1zM173 201h1v1h-1zM175 201h1v1h-1zM177 201h1v1h-1zM179 201h1v1h-1zM138 202h1v1h-1zM139 202h1v1h-1zM140 202h1v1h-1zM162 202h1v1h-1zM171 202h1v1h-1zM172 202h1v1h-1zM175 202h1v1h-1zM139 203h1v1h-1zM140 203h1v1h-1zM141 203h1v1h-1zM167 203h1v1h-1zM168 203h1v1h-1zM169 203h1v1h-1zM171 203h1v1h-1zM172 203h1v1h-1zM173 203h1v1h-1zM175 203h1v1h-1zM141 204h1v1h-1zM143 204h1v1h-1zM148 204h1v1h-1zM150 204h1v1h-1zM155 204h1v1h-1zM158 204h1v1h-1zM161 204h1v1h-1zM162 204h1v1h-1zM164 204h1v1h-1zM165 204h1v1h-1zM167 204h1v1h-1zM168 204h1v1h-1zM170 204h1v1h-1zM173 204h1v1h-1zM176 204h1v1h-1zM140 205h1v1h-1zM141 205h1v1h-1zM142 205h1v1h-1zM144 205h1v1h-1zM149 205h1v1h-1zM150 205h1v1h-1zM151 205h1v1h-1zM153 205h1v1h-1zM156 205h1v1h-1zM157 205h1v1h-1zM159 205h1v1h-1zM161 205h1v1h-1zM162 205h1v1h-1zM163 205h1v1h-1zM167 205h1v1h-1zM169 205h1v1h-1zM171 205h1v1h-1zM144 206h1v1h-1zM146 206h1v1h-1zM147 206h1v1h-1zM148 206h1v1h-1zM150 206h1v1h-1zM151 206h1v1h-1zM152 206h1v1h-1zM158 206h1v1h-1zM160 206h1v1h-1zM164 206h1v1h-1zM165 206h1v1h-1zM166 206h1v1h-1zM167 206h1v1h-1zM171 206h1v1h-1zM148 207h1v1h-1zM151 207h1v1h-1zM155 207h1v1h-1zM156 207h1v1h-1zM157 207h1v1h-1zM159 207h1v1h-1zM160 207h1v1h-1zM162 207h1v1h-1zM164 207h1v1h-1zM169 207h1v1h-1zM145 208h1v1h-1zM149 208h1v1h-1zM151 208h1v1h-1zM159 208h1v1h-1zM165 208h1v1h-1zM158 209h1v1h-1zM166 209h1v1h-1z"/>
<path fill="#ffff00" d="M160 193h1v1h-1zM142 194h1v1h-1zM149 194h1v1h-1zM155 194h1v1h-1zM157 194h1v1h-1zM166 194h1v1h-1zM141 195h1v1h-1zM147 195h1v1h-1zM150 195h1v1h-1zM151 195h1v1h-1zM155 195h1v1h-1zM157 195h1v1h-1zM158 195h1v1h-1zM160 195h1v1h-1zM162 195h1v1h-1zM172 195h1v1h-1zM137 196h1v1h-1zM138 196h1v1h-1zM141 196h1v1h-1zM146 196h1v1h-1zM147 196h1v1h-1zM149 196h1v1h-1zM150 196h1v1h-1zM153 196h1v1h-1zM154 196h1v1h-1zM155 196h1v1h-1zM156 196h1v1h-1zM158 196h1v1h-1zM159 196h1v1h-1zM161 196h1v1h-1zM163 196h1v1h-1zM164 196h1v1h-1zM167 196h1v1h-1zM171 196h1v1h-1zM138 197h1v1h-1zM142 197h1v1h-1zM144 197h1v1h-1zM146 197h1v1h-1zM147 197h1v1h-1zM152 197h1v1h-1zM153 197h1v1h-1zM155 197h1v1h-1zM156 197h1v1h-1zM157 197h1v1h-1zM159 197h1v1h-1zM162 197h1v1h-1zM165 197h1v1h-1zM166 197h1v1h-1zM168 197h1v1h-1zM169 197h1v1h-1zM170 197h1v1h-1zM139 198h1v1h-1zM140 198h1v1h-1zM145 198h1v1h-1zM148 198h1v1h-1zM153 198h1v1h-1zM155 198h1v1h-1zM156 198h1v1h-1zM157 198h1v1h-1zM158 198h1v1h-1zM160 198h1v1h-1zM162 198h1v1h-1zM164 198h1v1h-1zM166 198h1v1h-1zM168 198h1v1h-1zM171 198h1v1h-1zM172 198h1v1h-1zM173 198h1v1h-1zM140 199h1v1h-1zM141 199h1v1h-1zM142 199h1v1h-1zM144 199h1v1h-1zM145 199h1v1h-1zM146 199h1v1h-1zM148 199h1v1h-1zM159 199h1v1h-1zM162 199h1v1h-1zM163 199h1v1h-1zM165 199h1v1h-1zM166 199h1v1h-1zM168 199h1v1h-1zM170 199h1v1h-1zM171 199h1v1h-1zM174 199h1v1h-1zM176 199h1v1h-1zM137 200h1v1h-1zM139 200h1v1h-1zM140 200h1v1h-1zM141 200h1v1h-1zM142 200h1v1h-1zM143 200h1v1h-1zM145 200h1v1h-1zM146 200h1v1h-1zM147 200h1v1h-1zM160 200h1v1h-1zM161 200h1v1h-1zM166 200h1v1h-1zM169 200h1v1h-1zM170 200h1v1h-1zM173 200h1v1h-1zM175 200h1v1h-1zM140 201h1v1h-1zM142 201h1v1h-1zM143 201h1v1h-1zM145 201h1v1h-1zM146 201h1v1h-1zM153 201h1v1h-1zM154 201h1v1h-1zM159 201h1v1h-1zM161 201h1v1h-1zM164 201h1v1h-1zM165 201h1v1h-1zM168 201h1v1h-1zM169 201h1v1h-1zM174 201h1v1h-1zM141 202h1v1h-1zM142 202h1v1h-1zM144 202h1v1h-1zM145 202h1v1h-1zM149 202h1v1h-1zM150 202h1v1h-1zM152 202h1v1h-1zM153 202h1v1h-1zM155 202h1v1h-1zM158 202h1v1h-1zM159 202h1v1h-1zM163 202h1v1h-1zM164 202h1v1h-1zM165 202h1v1h-1zM166 202h1v1h-1zM169 202h1v1h-1zM170 202h1v1h-1zM173 202h1v1h-1zM174 202h1v1h-1zM142 203h1v1h-1zM144 203h1v1h-1zM145 203h1v1h-1zM147 203h1v1h-1zM148 203h1v1h-1zM149 203h1v1h-1zM150 203h1v1h-1zM151 203h1v1h-1zM155 203h1v1h-1zM156 203h1v1h-1zM157 203h1v1h-1zM158 203h1v1h-1zM159 203h1v1h-1zM160 203h1v1h-1zM162 203h1v1h-1zM163 203h1v1h-1zM164 203h1v1h-1zM165 203h1v1h-1zM166 203h1v1h-1zM144 204h1v1h-1zM145 204h1v1h-1zM147 204h1v1h-1zM152 204h1v1h-1zM153 204h1v1h-1zM154 204h1v1h-1zM156 204h1v1h-1zM157 204h1v1h-1zM159 204h1v1h-1zM160 204h1v1h-1zM163 204h1v1h-1zM166 204h1v1h-1zM171 204h1v1h-1zM172 204h1v1h-1zM145 205h1v1h-1zM146 205h1v1h-1zM147 205h1v1h-1zM148 205h1v1h-1zM152 205h1v1h-1zM154 205h1v1h-1zM155 205h1v1h-1zM160 205h1v1h-1zM170 205h1v1h-1zM145 206h1v1h-1zM149 206h1v1h-1zM157 206h1v1h-1zM163 206h1v1h-1z"/>
<path fill="#ffa000" d="M164 195h1v1h-1zM148 196h1v1h-1zM157 196h1v1h-1zM165 196h1v1h-1zM148 197h1v1h-1zM149 197h1v1h-1zM150 197h1v1h-1zM154 197h1v1h-1zM158 197h1v1h-1zM161 197h1v1h-1zM164 197h1v1h-1zM141 198h1v1h-1zM142 198h1v1h-1zM143 198h1v1h-1zM144 198h1v1h-1zM146 198h1v1h-1zM147 198h1v1h-1zM150 198h1v1h-1zM151 198h1v1h-1zM152 198h1v1h-1zM154 198h1v1h-1zM159 198h1v1h-1zM161 198h1v1h-1zM163 198h1v1h-1zM143 199h1v1h-1zM147 199h1v1h-1zM149 199h1v1h-1zM150 199h1v1h-1zM152 199h1v1h-1zM153 199h1v1h-1zM154 199h1v1h-1zM155 199h1v1h-1zM156 199h1v1h-1zM157 199h1v1h-1zM158 199h1v1h-1zM160 199h1v1h-1zM161 199h1v1h-1zM167 199h1v1h-1zM169 199h1v1h-1zM144 200h1v1h-1zM148 200h1v1h-1zM149 200h1v1h-1zM151 200h1v1h-1zM152 200h1v1h-1zM153 200h1v1h-1zM154 200h1v1h-1zM156 200h1v1h-1zM157 200h1v1h-1zM158 200h1v1h-1zM159 200h1v1h-1zM162 200h1v1h-1zM163 200h1v1h-1zM164 200h1v1h-1zM165 200h1v1h-1zM168 200h1v1h-1zM144 201h1v1h-1zM147 201h1v1h-1zM148 201h1v1h-1zM149 201h1v1h-1zM150 201h1v1h-1zM152 201h1v1h-1zM156 201h1v1h-1zM157 201h1v1h-1zM158 201h1v1h-1zM162 201h1v1h-1zM163 201h1v1h-1zM166 201h1v1h-1zM167 201h1v1h-1zM143 202h1v1h-1zM146 202h1v1h-1zM147 202h1v1h-1zM148 202h1v1h-1zM151 202h1v1h-1zM154 202h1v1h-1zM156 202h1v1h-1zM160 202h1v1h-1zM161 202h1v1h-1zM167 202h1v1h-1zM143 203h1v1h-1zM146 203h1v1h-1zM152 203h1v1h-1zM153 203h1v1h-1zM154 203h1v1h-1zM161 203h1v1h-1zM142 204h1v1h-1zM146 204h1v1h-1zM149 204h1v1h-1zM151 204h1v1h-1z"/>
<path fill="#ff5500" d="M149 198h1v1h-1zM151 199h1v1h-1zM150 200h1v1h-1zM155 200h1v1h-1zM151 201h1v1h-1zM160 201h1v1h-1zM157 202h1v1h-1z"/>
</g>
<g filter="url(#nb)"><rect x="202.5" y="159" width="1.6" height="1.6" fill="#0070ff"/><rect x="128.3" y="180.6" width="1.4" height="1.4" fill="#3070ff"/></g>
<text x="45" y="20" font-size="10.6" fill="#fff" textLength="61" lengthAdjust="spacingAndGlyphs" stroke="#fff" stroke-width="0.22">off-resonance</text>
<text x="45" y="155.6" font-size="11.2" fill="#fff" textLength="61" lengthAdjust="spacingAndGlyphs" stroke="#fff" stroke-width="0.22">on-resonance</text>
<text x="263.4" y="21.1" font-size="16.2" fill="#e6e6e6" stroke="none" textLength="21.8" lengthAdjust="spacingAndGlyphs">(a)</text>
<text transform="translate(38.2,151.3) scale(0.86,1)" font-size="10.6" fill="#333" text-anchor="end" stroke="#333" stroke-width="0.22">12</text>
<text transform="translate(38.2,171.8) scale(0.86,1)" font-size="10.6" fill="#333" text-anchor="end" stroke="#333" stroke-width="0.22">10</text>
<text transform="translate(38.2,191.8) scale(0.86,1)" font-size="10.6" fill="#333" text-anchor="end" stroke="#333" stroke-width="0.22">8</text>
<text transform="translate(38.2,211.3) scale(0.86,1)" font-size="10.6" fill="#333" text-anchor="end" stroke="#333" stroke-width="0.22">6</text>
<text transform="translate(38.2,231.3) scale(0.86,1)" font-size="10.6" fill="#333" text-anchor="end" stroke="#333" stroke-width="0.22">4</text>
<text transform="translate(65.5,254.4) scale(0.88,1)" font-size="10.8" fill="#333" text-anchor="middle" stroke="#333" stroke-width="0.22">838</text>
<text transform="translate(94.1,254.4) scale(0.88,1)" font-size="10.8" fill="#333" text-anchor="middle" stroke="#333" stroke-width="0.22">840</text>
<text transform="translate(122.7,254.4) scale(0.88,1)" font-size="10.8" fill="#333" text-anchor="middle" stroke="#333" stroke-width="0.22">842</text>
<text transform="translate(151.3,254.4) scale(0.88,1)" font-size="10.8" fill="#333" text-anchor="middle" stroke="#333" stroke-width="0.22">844</text>
<text transform="translate(179.9,254.4) scale(0.88,1)" font-size="10.8" fill="#333" text-anchor="middle" stroke="#333" stroke-width="0.22">846</text>
<text transform="translate(208.5,254.4) scale(0.88,1)" font-size="10.8" fill="#333" text-anchor="middle" stroke="#333" stroke-width="0.22">848</text>
<text transform="translate(237.1,254.4) scale(0.88,1)" font-size="10.8" fill="#333" text-anchor="middle" stroke="#333" stroke-width="0.22">850</text>
<text transform="translate(265.7,254.4) scale(0.88,1)" font-size="10.8" fill="#333" text-anchor="middle" stroke="#333" stroke-width="0.22">852</text>
<text x="125.5" y="266.9" font-size="10.7" fill="#333" textLength="76" lengthAdjust="spacingAndGlyphs" stroke="#333" stroke-width="0.22">Wavelength (nm)</text>
<text transform="translate(20.8,248.6) rotate(-90)" x="0" y="0" font-size="10.8" fill="#333" textLength="124.5" lengthAdjust="spacingAndGlyphs" stroke="#333" stroke-width="0.22">Vertical dimension (mm)</text>
<line x1="361" y1="8.75" x2="640" y2="8.75" stroke="#808080" stroke-width="1.4"/>
<line x1="361" y1="234" x2="640" y2="234" stroke="#808080" stroke-width="1.4"/>
<line x1="361.3" y1="8.75" x2="361.3" y2="234" stroke="#808080" stroke-width="1.35"/>
<line x1="640" y1="8.75" x2="640" y2="234" stroke="#ff7070" stroke-width="1.6"/>
<line x1="361.00" y1="234" x2="361.00" y2="237.5" stroke="#333" stroke-width="1"/>
<line x1="361.00" y1="8.75" x2="361.00" y2="11.75" stroke="#333" stroke-width="1"/>
<line x1="377.80" y1="234" x2="377.80" y2="235.8" stroke="#333" stroke-width="1"/>
<line x1="377.80" y1="8.75" x2="377.80" y2="10.55" stroke="#333" stroke-width="1"/>
<line x1="387.62" y1="234" x2="387.62" y2="235.8" stroke="#333" stroke-width="1"/>
<line x1="387.62" y1="8.75" x2="387.62" y2="10.55" stroke="#333" stroke-width="1"/>
<line x1="394.59" y1="234" x2="394.59" y2="235.8" stroke="#333" stroke-width="1"/>
<line x1="394.59" y1="8.75" x2="394.59" y2="10.55" stroke="#333" stroke-width="1"/>
<line x1="400.00" y1="234" x2="400.00" y2="235.8" stroke="#333" stroke-width="1"/>
<line x1="400.00" y1="8.75" x2="400.00" y2="10.55" stroke="#333" stroke-width="1"/>
<line x1="404.42" y1="234" x2="404.42" y2="235.8" stroke="#333" stroke-width="1"/>
<line x1="404.42" y1="8.75" x2="404.42" y2="10.55" stroke="#333" stroke-width="1"/>
<line x1="408.16" y1="234" x2="408.16" y2="235.8" stroke="#333" stroke-width="1"/>
<line x1="408.16" y1="8.75" x2="408.16" y2="10.55" stroke="#333" stroke-width="1"/>
<line x1="411.39" y1="234" x2="411.39" y2="235.8" stroke="#333" stroke-width="1"/>
<line x1="411.39" y1="8.75" x2="411.39" y2="10.55" stroke="#333" stroke-width="1"/>
<line x1="414.25" y1="234" x2="414.25" y2="235.8" stroke="#333" stroke-width="1"/>
<line x1="414.25" y1="8.75" x2="414.25" y2="10.55" stroke="#333" stroke-width="1"/>
<line x1="416.80" y1="234" x2="416.80" y2="237.5" stroke="#333" stroke-width="1"/>
<line x1="416.80" y1="8.75" x2="416.80" y2="11.75" stroke="#333" stroke-width="1"/>
<line x1="433.60" y1="234" x2="433.60" y2="235.8" stroke="#333" stroke-width="1"/>
<line x1="433.60" y1="8.75" x2="433.60" y2="10.55" stroke="#333" stroke-width="1"/>
<line x1="443.42" y1="234" x2="443.42" y2="235.8" stroke="#333" stroke-width="1"/>
<line x1="443.42" y1="8.75" x2="443.42" y2="10.55" stroke="#333" stroke-width="1"/>
<line x1="450.39" y1="234" x2="450.39" y2="235.8" stroke="#333" stroke-width="1"/>
<line x1="450.39" y1="8.75" x2="450.39" y2="10.55" stroke="#333" stroke-width="1"/>
<line x1="455.80" y1="234" x2="455.80" y2="235.8" stroke="#333" stroke-width="1"/>
<line x1="455.80" y1="8.75" x2="455.80" y2="10.55" stroke="#333" stroke-width="1"/>
<line x1="460.22" y1="234" x2="460.22" y2="235.8" stroke="#333" stroke-width="1"/>
<line x1="460.22" y1="8.75" x2="460.22" y2="10.55" stroke="#333" stroke-width="1"/>
<line x1="463.96" y1="234" x2="463.96" y2="235.8" stroke="#333" stroke-width="1"/>
<line x1="463.96" y1="8.75" x2="463.96" y2="10.55" stroke="#333" stroke-width="1"/>
<line x1="467.19" y1="234" x2="467.19" y2="235.8" stroke="#333" stroke-width="1"/>
<line x1="467.19" y1="8.75" x2="467.19" y2="10.55" stroke="#333" stroke-width="1"/>
<line x1="470.05" y1="234" x2="470.05" y2="235.8" stroke="#333" stroke-width="1"/>
<line x1="470.05" y1="8.75" x2="470.05" y2="10.55" stroke="#333" stroke-width="1"/>
<line x1="472.60" y1="234" x2="472.60" y2="237.5" stroke="#333" stroke-width="1"/>
<line x1="472.60" y1="8.75" x2="472.60" y2="11.75" stroke="#333" stroke-width="1"/>
<line x1="489.40" y1="234" x2="489.40" y2="235.8" stroke="#333" stroke-width="1"/>
<line x1="489.40" y1="8.75" x2="489.40" y2="10.55" stroke="#333" stroke-width="1"/>
<line x1="499.22" y1="234" x2="499.22" y2="235.8" stroke="#333" stroke-width="1"/>
<line x1="499.22" y1="8.75" x2="499.22" y2="10.55" stroke="#333" stroke-width="1"/>
<line x1="506.19" y1="234" x2="506.19" y2="235.8" stroke="#333" stroke-width="1"/>
<line x1="506.19" y1="8.75" x2="506.19" y2="10.55" stroke="#333" stroke-width="1"/>
<line x1="511.60" y1="234" x2="511.60" y2="235.8" stroke="#333" stroke-width="1"/>
<line x1="511.60" y1="8.75" x2="511.60" y2="10.55" stroke="#333" stroke-width="1"/>
<line x1="516.02" y1="234" x2="516.02" y2="235.8" stroke="#333" stroke-width="1"/>
<line x1="516.02" y1="8.75" x2="516.02" y2="10.55" stroke="#333" stroke-width="1"/>
<line x1="519.76" y1="234" x2="519.76" y2="235.8" stroke="#333" stroke-width="1"/>
<line x1="519.76" y1="8.75" x2="519.76" y2="10.55" stroke="#333" stroke-width="1"/>
<line x1="522.99" y1="234" x2="522.99" y2="235.8" stroke="#333" stroke-width="1"/>
<line x1="522.99" y1="8.75" x2="522.99" y2="10.55" stroke="#333" stroke-width="1"/>
<line x1="525.85" y1="234" x2="525.85" y2="235.8" stroke="#333" stroke-width="1"/>
<line x1="525.85" y1="8.75" x2="525.85" y2="10.55" stroke="#333" stroke-width="1"/>
<line x1="528.40" y1="234" x2="528.40" y2="237.5" stroke="#333" stroke-width="1"/>
<line x1="528.40" y1="8.75" x2="528.40" y2="11.75" stroke="#333" stroke-width="1"/>
<line x1="545.20" y1="234" x2="545.20" y2="235.8" stroke="#333" stroke-width="1"/>
<line x1="545.20" y1="8.75" x2="545.20" y2="10.55" stroke="#333" stroke-width="1"/>
<line x1="555.02" y1="234" x2="555.02" y2="235.8" stroke="#333" stroke-width="1"/>
<line x1="555.02" y1="8.75" x2="555.02" y2="10.55" stroke="#333" stroke-width="1"/>
<line x1="561.99" y1="234" x2="561.99" y2="235.8" stroke="#333" stroke-width="1"/>
<line x1="561.99" y1="8.75" x2="561.99" y2="10.55" stroke="#333" stroke-width="1"/>
<line x1="567.40" y1="234" x2="567.40" y2="235.8" stroke="#333" stroke-width="1"/>
<line x1="567.40" y1="8.75" x2="567.40" y2="10.55" stroke="#333" stroke-width="1"/>
<line x1="571.82" y1="234" x2="571.82" y2="235.8" stroke="#333" stroke-width="1"/>
<line x1="571.82" y1="8.75" x2="571.82" y2="10.55" stroke="#333" stroke-width="1"/>
<line x1="575.56" y1="234" x2="575.56" y2="235.8" stroke="#333" stroke-width="1"/>
<line x1="575.56" y1="8.75" x2="575.56" y2="10.55" stroke="#333" stroke-width="1"/>
<line x1="578.79" y1="234" x2="578.79" y2="235.8" stroke="#333" stroke-width="1"/>
<line x1="578.79" y1="8.75" x2="578.79" y2="10.55" stroke="#333" stroke-width="1"/>
<line x1="581.65" y1="234" x2="581.65" y2="235.8" stroke="#333" stroke-width="1"/>
<line x1="581.65" y1="8.75" x2="581.65" y2="10.55" stroke="#333" stroke-width="1"/>
<line x1="584.20" y1="234" x2="584.20" y2="237.5" stroke="#333" stroke-width="1"/>
<line x1="584.20" y1="8.75" x2="584.20" y2="11.75" stroke="#333" stroke-width="1"/>
<line x1="601.00" y1="234" x2="601.00" y2="235.8" stroke="#333" stroke-width="1"/>
<line x1="601.00" y1="8.75" x2="601.00" y2="10.55" stroke="#333" stroke-width="1"/>
<line x1="610.82" y1="234" x2="610.82" y2="235.8" stroke="#333" stroke-width="1"/>
<line x1="610.82" y1="8.75" x2="610.82" y2="10.55" stroke="#333" stroke-width="1"/>
<line x1="617.79" y1="234" x2="617.79" y2="235.8" stroke="#333" stroke-width="1"/>
<line x1="617.79" y1="8.75" x2="617.79" y2="10.55" stroke="#333" stroke-width="1"/>
<line x1="623.20" y1="234" x2="623.20" y2="235.8" stroke="#333" stroke-width="1"/>
<line x1="623.20" y1="8.75" x2="623.20" y2="10.55" stroke="#333" stroke-width="1"/>
<line x1="627.62" y1="234" x2="627.62" y2="235.8" stroke="#333" stroke-width="1"/>
<line x1="627.62" y1="8.75" x2="627.62" y2="10.55" stroke="#333" stroke-width="1"/>
<line x1="631.36" y1="234" x2="631.36" y2="235.8" stroke="#333" stroke-width="1"/>
<line x1="631.36" y1="8.75" x2="631.36" y2="10.55" stroke="#333" stroke-width="1"/>
<line x1="634.59" y1="234" x2="634.59" y2="235.8" stroke="#333" stroke-width="1"/>
<line x1="634.59" y1="8.75" x2="634.59" y2="10.55" stroke="#333" stroke-width="1"/>
<line x1="637.45" y1="234" x2="637.45" y2="235.8" stroke="#333" stroke-width="1"/>
<line x1="637.45" y1="8.75" x2="637.45" y2="10.55" stroke="#333" stroke-width="1"/>
<line x1="640.00" y1="234" x2="640.00" y2="237.5" stroke="#333" stroke-width="1"/>
<line x1="640.00" y1="8.75" x2="640.00" y2="11.75" stroke="#333" stroke-width="1"/>
<line x1="640.00" y1="234" x2="640.00" y2="237.5" stroke="#333" stroke-width="1"/>
<line x1="358" y1="222.40" x2="361" y2="222.40" stroke="#333" stroke-width="1"/>
<line x1="359.5" y1="191.85" x2="361" y2="191.85" stroke="#333" stroke-width="1"/>
<line x1="358" y1="161.30" x2="361" y2="161.30" stroke="#333" stroke-width="1"/>
<line x1="359.5" y1="130.75" x2="361" y2="130.75" stroke="#333" stroke-width="1"/>
<line x1="358" y1="100.20" x2="361" y2="100.20" stroke="#333" stroke-width="1"/>
<line x1="359.5" y1="69.65" x2="361" y2="69.65" stroke="#333" stroke-width="1"/>
<line x1="358" y1="39.10" x2="361" y2="39.10" stroke="#333" stroke-width="1"/>
<line x1="640" y1="234.00" x2="641.5" y2="234.00" stroke="#ff2020" stroke-width="1"/>
<line x1="640" y1="211.50" x2="643" y2="211.50" stroke="#ff2020" stroke-width="1"/>
<line x1="640" y1="189.00" x2="641.5" y2="189.00" stroke="#ff2020" stroke-width="1"/>
<line x1="640" y1="166.50" x2="643" y2="166.50" stroke="#ff2020" stroke-width="1"/>
<line x1="640" y1="144.00" x2="641.5" y2="144.00" stroke="#ff2020" stroke-width="1"/>
<line x1="640" y1="121.50" x2="643" y2="121.50" stroke="#ff2020" stroke-width="1"/>
<line x1="640" y1="99.00" x2="641.5" y2="99.00" stroke="#ff2020" stroke-width="1"/>
<line x1="640" y1="76.50" x2="643" y2="76.50" stroke="#ff2020" stroke-width="1"/>
<line x1="640" y1="54.00" x2="641.5" y2="54.00" stroke="#ff2020" stroke-width="1"/>
<line x1="640" y1="31.50" x2="643" y2="31.50" stroke="#ff2020" stroke-width="1"/>
<line x1="640" y1="9.00" x2="641.5" y2="9.00" stroke="#ff2020" stroke-width="1"/>
<text x="361.0" y="248.9" font-size="10.6" fill="#111" text-anchor="middle" stroke="#111" stroke-width="0.22">0.001</text>
<text x="416.8" y="248.9" font-size="10.6" fill="#111" text-anchor="middle" stroke="#111" stroke-width="0.22">0.01</text>
<text x="472.6" y="248.9" font-size="10.6" fill="#111" text-anchor="middle" stroke="#111" stroke-width="0.22">0.1</text>
<text x="528.4" y="248.9" font-size="10.6" fill="#111" text-anchor="middle" stroke="#111" stroke-width="0.22">1</text>
<text x="584.2" y="248.9" font-size="10.6" fill="#111" text-anchor="middle" stroke="#111" stroke-width="0.22">10</text>
<text x="640.0" y="248.9" font-size="10.6" fill="#111" text-anchor="middle" stroke="#111" stroke-width="0.22">100</text>
<text x="469" y="262" font-size="11" fill="#111" textLength="49" lengthAdjust="spacingAndGlyphs" stroke="#111" stroke-width="0.22">Time (µs)</text>
<text x="350.5" y="43.4" font-size="10.8" fill="#111" text-anchor="end" stroke="#111" stroke-width="0.22">1.0x10</text>
<text x="351.3" y="38.7" font-size="7" fill="#111" stroke="#111" stroke-width="0.22">8</text>
<text x="350.5" y="104.5" font-size="10.8" fill="#111" text-anchor="end" stroke="#111" stroke-width="0.22">9.5x10</text>
<text x="351.3" y="99.8" font-size="7" fill="#111" stroke="#111" stroke-width="0.22">7</text>
<text x="350.5" y="165.6" font-size="10.8" fill="#111" text-anchor="end" stroke="#111" stroke-width="0.22">9.0x10</text>
<text x="351.3" y="160.9" font-size="7" fill="#111" stroke="#111" stroke-width="0.22">7</text>
<text x="350.5" y="226.7" font-size="10.8" fill="#111" text-anchor="end" stroke="#111" stroke-width="0.22">8.5x10</text>
<text x="351.3" y="222.0" font-size="7" fill="#111" stroke="#111" stroke-width="0.22">7</text>
<text x="646.3" y="35.5" font-size="10.8" fill="#ff2020">2.5x10</text>
<text x="679.1" y="30.5" font-size="7" fill="#ff2020">7</text>
<text x="646.3" y="80.5" font-size="10.8" fill="#ff2020">2.0x10</text>
<text x="679.1" y="75.5" font-size="7" fill="#ff2020">7</text>
<text x="646.3" y="125.5" font-size="10.8" fill="#ff2020">1.5x10</text>
<text x="679.1" y="120.5" font-size="7" fill="#ff2020">7</text>
<text x="646.3" y="170.5" font-size="10.8" fill="#ff2020">1.0x10</text>
<text x="679.1" y="165.5" font-size="7" fill="#ff2020">7</text>
<text x="646.3" y="215.5" font-size="10.8" fill="#ff2020">5.0x10</text>
<text x="679.1" y="210.5" font-size="7" fill="#ff2020">6</text>
<text transform="translate(312.4,183.0) rotate(-90)" font-size="11.8" fill="#111" textLength="123.8" lengthAdjust="spacingAndGlyphs" stroke="#111" stroke-width="0.22">TALIF signal (arb. units)</text>
<text transform="translate(695.8,201.7) rotate(-90)" font-size="11.9" fill="#ff2020" textLength="164" lengthAdjust="spacingAndGlyphs">Spectroscopic signal (arb. units)</text>
<text x="606.4" y="28.5" font-size="16.3" fill="#1a1a1a" stroke="none" textLength="22.0" lengthAdjust="spacingAndGlyphs">(b)</text>
<line x1="387" y1="212.8" x2="631" y2="212.8" stroke="#ff2020" stroke-width="2" stroke-dasharray="7 6.93"/>
<polyline points="472.7,130.2 482.5,118.1 490.5,92.6 499.6,121.1 506.0,50.5 516.0,46.8 528.3,86.4 545.2,75.4 562.0,70.3 582.0,80.1 601.4,68.2 618.4,85.2 637.0,105.8" fill="none" stroke="#000" stroke-width="1.4"/>
<circle cx="472.7" cy="130.2" r="3.75" fill="#000"/>
<circle cx="482.5" cy="118.1" r="3.75" fill="#000"/>
<circle cx="490.5" cy="92.6" r="3.75" fill="#000"/>
<circle cx="499.6" cy="121.1" r="3.75" fill="#000"/>
<circle cx="506" cy="50.5" r="3.75" fill="#000"/>
<circle cx="516" cy="46.8" r="3.75" fill="#000"/>
<circle cx="528.3" cy="86.4" r="3.75" fill="#000"/>
<circle cx="545.2" cy="75.4" r="3.75" fill="#000"/>
<circle cx="562" cy="70.3" r="3.75" fill="#000"/>
<circle cx="582" cy="80.1" r="3.75" fill="#000"/>
<circle cx="601.4" cy="68.2" r="3.75" fill="#000"/>
<circle cx="618.4" cy="85.2" r="3.75" fill="#000"/>
<circle cx="637" cy="105.8" r="3.75" fill="#000"/>
<polyline points="387.5,56.1 398.6,60.4 401.6,60.4 408.2,58.2 411.2,67.8 414.6,52.3 418.6,49.2 422.2,51.0 425.0,50.4 427.0,53.5 430.0,68.0 433.0,68.0 435.0,58.0 437.8,58.0 442.2,50.5 445.5,64.7 451.5,57.7 453.5,57.7 457.6,52.3 461.6,56.0" fill="none" stroke="#ff3b3b" stroke-width="1.0"/>
<polyline points="461.6,56.0 475.5,56.0 491.0,47.2 528.8,75.4 545.5,72.8 567.4,63.0 584.0,64.5 600.5,62.0 622.5,76.4 637.5,64.7" fill="none" stroke="#ff2020" stroke-width="1.4"/>
<line x1="387.5" y1="48.2" x2="387.5" y2="56.1" stroke="#ff4848" stroke-width="0.9"/>
<line x1="385.0" y1="48.2" x2="390.0" y2="48.2" stroke="#ff4848" stroke-width="0.9"/>
<line x1="387.5" y1="56.1" x2="387.5" y2="64.0" stroke="#ff4848" stroke-width="0.9"/>
<line x1="385.0" y1="64.0" x2="390.0" y2="64.0" stroke="#ff4848" stroke-width="0.9"/>
<line x1="361.0" y1="56.1" x2="387.5" y2="56.1" stroke="#ff4848" stroke-width="0.9"/>
<line x1="377.6" y1="60.4" x2="398.6" y2="60.4" stroke="#ff4848" stroke-width="0.9"/>
<line x1="377.6" y1="58.1" x2="377.6" y2="62.699999999999996" stroke="#ff4848" stroke-width="0.9"/>
<line x1="408.2" y1="49.8" x2="408.2" y2="52.8" stroke="#ff4848" stroke-width="0.9"/>
<line x1="405.7" y1="49.8" x2="410.7" y2="49.8" stroke="#ff4848" stroke-width="0.9"/>
<line x1="400.6" y1="67.8" x2="411.2" y2="67.8" stroke="#ff4848" stroke-width="0.9"/>
<line x1="400.6" y1="65.5" x2="400.6" y2="70.1" stroke="#ff4848" stroke-width="0.9"/>
<line x1="411.2" y1="67.8" x2="419.6" y2="67.8" stroke="#ff4848" stroke-width="0.9"/>
<line x1="419.6" y1="65.5" x2="419.6" y2="70.1" stroke="#ff4848" stroke-width="0.9"/>
<line x1="414.6" y1="43.0" x2="414.6" y2="52.3" stroke="#ff4848" stroke-width="0.9"/>
<line x1="412.1" y1="43.0" x2="417.1" y2="43.0" stroke="#ff4848" stroke-width="0.9"/>
<line x1="422.2" y1="43.0" x2="422.2" y2="51.0" stroke="#ff4848" stroke-width="0.9"/>
<line x1="419.7" y1="43.0" x2="424.7" y2="43.0" stroke="#ff4848" stroke-width="0.9"/>
<line x1="457.6" y1="50.0" x2="457.6" y2="52.3" stroke="#ff4848" stroke-width="0.9"/>
<line x1="455.1" y1="50.0" x2="460.1" y2="50.0" stroke="#ff4848" stroke-width="0.9"/>
<line x1="461.6" y1="50.0" x2="461.6" y2="56.0" stroke="#ff4848" stroke-width="0.9"/>
<line x1="459.1" y1="50.0" x2="464.1" y2="50.0" stroke="#ff4848" stroke-width="0.9"/>
<line x1="461.6" y1="56.0" x2="461.6" y2="61.6" stroke="#ff4848" stroke-width="0.9"/>
<line x1="459.1" y1="61.6" x2="464.1" y2="61.6" stroke="#ff4848" stroke-width="0.9"/>
<line x1="528.8" y1="73.5" x2="528.8" y2="75.4" stroke="#ff4848" stroke-width="0.9"/>
<line x1="526.3" y1="73.5" x2="531.3" y2="73.5" stroke="#ff4848" stroke-width="0.9"/>
<line x1="528.8" y1="75.4" x2="528.8" y2="78.0" stroke="#ff4848" stroke-width="0.9"/>
<line x1="526.3" y1="78.0" x2="531.3" y2="78.0" stroke="#ff4848" stroke-width="0.9"/>
<line x1="567.4" y1="55.0" x2="567.4" y2="63.0" stroke="#ff4848" stroke-width="0.9"/>
<line x1="564.9" y1="55.0" x2="569.9" y2="55.0" stroke="#ff4848" stroke-width="0.9"/>
<line x1="567.4" y1="63.0" x2="567.4" y2="70.3" stroke="#ff4848" stroke-width="0.9"/>
<line x1="564.9" y1="70.3" x2="569.9" y2="70.3" stroke="#ff4848" stroke-width="0.9"/>
<line x1="584.0" y1="48.2" x2="584.0" y2="64.5" stroke="#ff4848" stroke-width="0.9"/>
<line x1="581.5" y1="48.2" x2="586.5" y2="48.2" stroke="#ff4848" stroke-width="0.9"/>
<line x1="584.0" y1="64.5" x2="584.0" y2="80.5" stroke="#ff4848" stroke-width="0.9"/>
<line x1="581.5" y1="80.5" x2="586.5" y2="80.5" stroke="#ff4848" stroke-width="0.9"/>
<line x1="622.5" y1="67.4" x2="622.5" y2="76.4" stroke="#ff4848" stroke-width="0.9"/>
<line x1="620.0" y1="67.4" x2="625.0" y2="67.4" stroke="#ff4848" stroke-width="0.9"/>
<line x1="622.5" y1="76.4" x2="622.5" y2="85.2" stroke="#ff4848" stroke-width="0.9"/>
<line x1="620.0" y1="85.2" x2="625.0" y2="85.2" stroke="#ff4848" stroke-width="0.9"/>
<rect x="384.7" y="53.3" width="5.6" height="5.6" fill="#fff" stroke="#ff4848" stroke-width="0.9"/>
<rect x="395.8" y="57.6" width="5.6" height="5.6" fill="#fff" stroke="#ff4848" stroke-width="0.9"/>
<rect x="398.8" y="57.6" width="5.6" height="5.6" fill="#fff" stroke="#ff4848" stroke-width="0.9"/>
<rect x="405.4" y="50.0" width="5.6" height="5.6" fill="#fff" stroke="#ff4848" stroke-width="0.9"/>
<rect x="405.4" y="55.4" width="5.6" height="5.6" fill="#fff" stroke="#ff4848" stroke-width="0.9"/>
<rect x="408.4" y="65.0" width="5.6" height="5.6" fill="#fff" stroke="#ff4848" stroke-width="0.9"/>
<rect x="411.8" y="49.5" width="5.6" height="5.6" fill="#fff" stroke="#ff4848" stroke-width="0.9"/>
<rect x="415.8" y="46.4" width="5.6" height="5.6" fill="#fff" stroke="#ff4848" stroke-width="0.9"/>
<rect x="419.4" y="48.2" width="5.6" height="5.6" fill="#fff" stroke="#ff4848" stroke-width="0.9"/>
<rect x="422.2" y="47.6" width="5.6" height="5.6" fill="#fff" stroke="#ff4848" stroke-width="0.9"/>
<rect x="424.2" y="50.7" width="5.6" height="5.6" fill="#fff" stroke="#ff4848" stroke-width="0.9"/>
<rect x="427.2" y="65.2" width="5.6" height="5.6" fill="#fff" stroke="#ff4848" stroke-width="0.9"/>
<rect x="430.2" y="65.2" width="5.6" height="5.6" fill="#fff" stroke="#ff4848" stroke-width="0.9"/>
<rect x="432.2" y="55.2" width="5.6" height="5.6" fill="#fff" stroke="#ff4848" stroke-width="0.9"/>
<rect x="435.0" y="55.2" width="5.6" height="5.6" fill="#fff" stroke="#ff4848" stroke-width="0.9"/>
<line x1="435.0" y1="58.0" x2="440.6" y2="58.0" stroke="#ff4848" stroke-width="0.8"/>
<line x1="437.8" y1="55.2" x2="437.8" y2="60.8" stroke="#ff4848" stroke-width="0.8"/>
<rect x="439.4" y="46.7" width="5.6" height="5.6" fill="#fff" stroke="#ff4848" stroke-width="0.9"/>
<rect x="439.4" y="48.7" width="5.6" height="5.6" fill="#fff" stroke="#ff4848" stroke-width="0.9"/>
<line x1="439.4" y1="51.5" x2="445.0" y2="51.5" stroke="#ff4848" stroke-width="0.8"/>
<line x1="442.2" y1="48.7" x2="442.2" y2="54.3" stroke="#ff4848" stroke-width="0.8"/>
<rect x="442.7" y="61.9" width="5.6" height="5.6" fill="#fff" stroke="#ff4848" stroke-width="0.9"/>
<rect x="448.7" y="54.9" width="5.6" height="5.6" fill="#fff" stroke="#ff4848" stroke-width="0.9"/>
<rect x="450.7" y="54.9" width="5.6" height="5.6" fill="#fff" stroke="#ff4848" stroke-width="0.9"/>
<line x1="450.7" y1="57.7" x2="456.3" y2="57.7" stroke="#ff4848" stroke-width="0.8"/>
<line x1="453.5" y1="54.9" x2="453.5" y2="60.5" stroke="#ff4848" stroke-width="0.8"/>
<rect x="454.8" y="49.5" width="5.6" height="5.6" fill="#fff" stroke="#ff4848" stroke-width="0.9"/>
<rect x="458.8" y="53.2" width="5.6" height="5.6" fill="#fff" stroke="#ff4848" stroke-width="0.9"/>
<line x1="458.8" y1="56.0" x2="464.4" y2="56.0" stroke="#ff4848" stroke-width="0.8"/>
<line x1="461.6" y1="53.2" x2="461.6" y2="58.8" stroke="#ff4848" stroke-width="0.8"/>
<rect x="472.7" y="53.2" width="5.6" height="5.6" fill="#fff" stroke="#ff4848" stroke-width="0.9"/>
<line x1="472.7" y1="56.0" x2="478.3" y2="56.0" stroke="#ff4848" stroke-width="0.8"/>
<line x1="475.5" y1="53.2" x2="475.5" y2="58.8" stroke="#ff4848" stroke-width="0.8"/>
<rect x="488.2" y="44.4" width="5.6" height="5.6" fill="#fff" stroke="#ff4848" stroke-width="0.9"/>
<line x1="488.2" y1="47.2" x2="493.8" y2="47.2" stroke="#ff4848" stroke-width="0.8"/>
<line x1="491.0" y1="44.4" x2="491.0" y2="50.0" stroke="#ff4848" stroke-width="0.8"/>
<rect x="526.0" y="72.6" width="5.6" height="5.6" fill="#fff" stroke="#ff4848" stroke-width="0.9"/>
<line x1="526.0" y1="75.4" x2="531.6" y2="75.4" stroke="#ff4848" stroke-width="0.8"/>
<line x1="528.8" y1="72.6" x2="528.8" y2="78.2" stroke="#ff4848" stroke-width="0.8"/>
<rect x="542.7" y="70.0" width="5.6" height="5.6" fill="#fff" stroke="#ff4848" stroke-width="0.9"/>
<line x1="542.7" y1="72.8" x2="548.3" y2="72.8" stroke="#ff4848" stroke-width="0.8"/>
<line x1="545.5" y1="70.0" x2="545.5" y2="75.6" stroke="#ff4848" stroke-width="0.8"/>
<rect x="564.6" y="60.2" width="5.6" height="5.6" fill="#fff" stroke="#ff4848" stroke-width="0.9"/>
<line x1="564.6" y1="63.0" x2="570.2" y2="63.0" stroke="#ff4848" stroke-width="0.8"/>
<line x1="567.4" y1="60.2" x2="567.4" y2="65.8" stroke="#ff4848" stroke-width="0.8"/>
<rect x="581.2" y="61.7" width="5.6" height="5.6" fill="#fff" stroke="#ff4848" stroke-width="0.9"/>
<line x1="581.2" y1="64.5" x2="586.8" y2="64.5" stroke="#ff4848" stroke-width="0.8"/>
<line x1="584.0" y1="61.7" x2="584.0" y2="67.3" stroke="#ff4848" stroke-width="0.8"/>
<rect x="597.7" y="59.2" width="5.6" height="5.6" fill="#fff" stroke="#ff4848" stroke-width="0.9"/>
<line x1="597.7" y1="62.0" x2="603.3" y2="62.0" stroke="#ff4848" stroke-width="0.8"/>
<line x1="600.5" y1="59.2" x2="600.5" y2="64.8" stroke="#ff4848" stroke-width="0.8"/>
<rect x="619.7" y="73.6" width="5.6" height="5.6" fill="#fff" stroke="#ff4848" stroke-width="0.9"/>
<line x1="619.7" y1="76.4" x2="625.3" y2="76.4" stroke="#ff4848" stroke-width="0.8"/>
<line x1="622.5" y1="73.6" x2="622.5" y2="79.2" stroke="#ff4848" stroke-width="0.8"/>
<rect x="634.7" y="61.9" width="5.6" height="5.6" fill="#fff" stroke="#ff4848" stroke-width="0.9"/>
<line x1="634.7" y1="64.7" x2="640.3" y2="64.7" stroke="#ff4848" stroke-width="0.8"/>
<line x1="637.5" y1="61.9" x2="637.5" y2="67.5" stroke="#ff4848" stroke-width="0.8"/>
<line x1="496" y1="165" x2="522.5" y2="165" stroke="#000" stroke-width="1.6"/>
<circle cx="509.5" cy="165.2" r="3.5" fill="#000"/>
<line x1="496" y1="179" x2="522.5" y2="179" stroke="#ff3030" stroke-width="1.5"/>
<rect x="506.5" y="176" width="6" height="6" fill="#fff" stroke="#ff3030" stroke-width="1"/>
<line x1="496" y1="193" x2="517" y2="193" stroke="#ff2020" stroke-width="2" stroke-dasharray="7 7"/>
<text x="526" y="169" font-size="11.6" fill="#111" textLength="62" lengthAdjust="spacingAndGlyphs" stroke="#111" stroke-width="0.22">TALIF signal</text>
<text x="526" y="182.8" font-size="11.6" fill="#111" textLength="102" lengthAdjust="spacingAndGlyphs" stroke="#111" stroke-width="0.22">Spectroscopic signal</text>
<text x="526" y="196.6" font-size="11.6" fill="#111" textLength="53.5" lengthAdjust="spacingAndGlyphs" stroke="#111" stroke-width="0.22">base flame</text>
</svg></body></html>
